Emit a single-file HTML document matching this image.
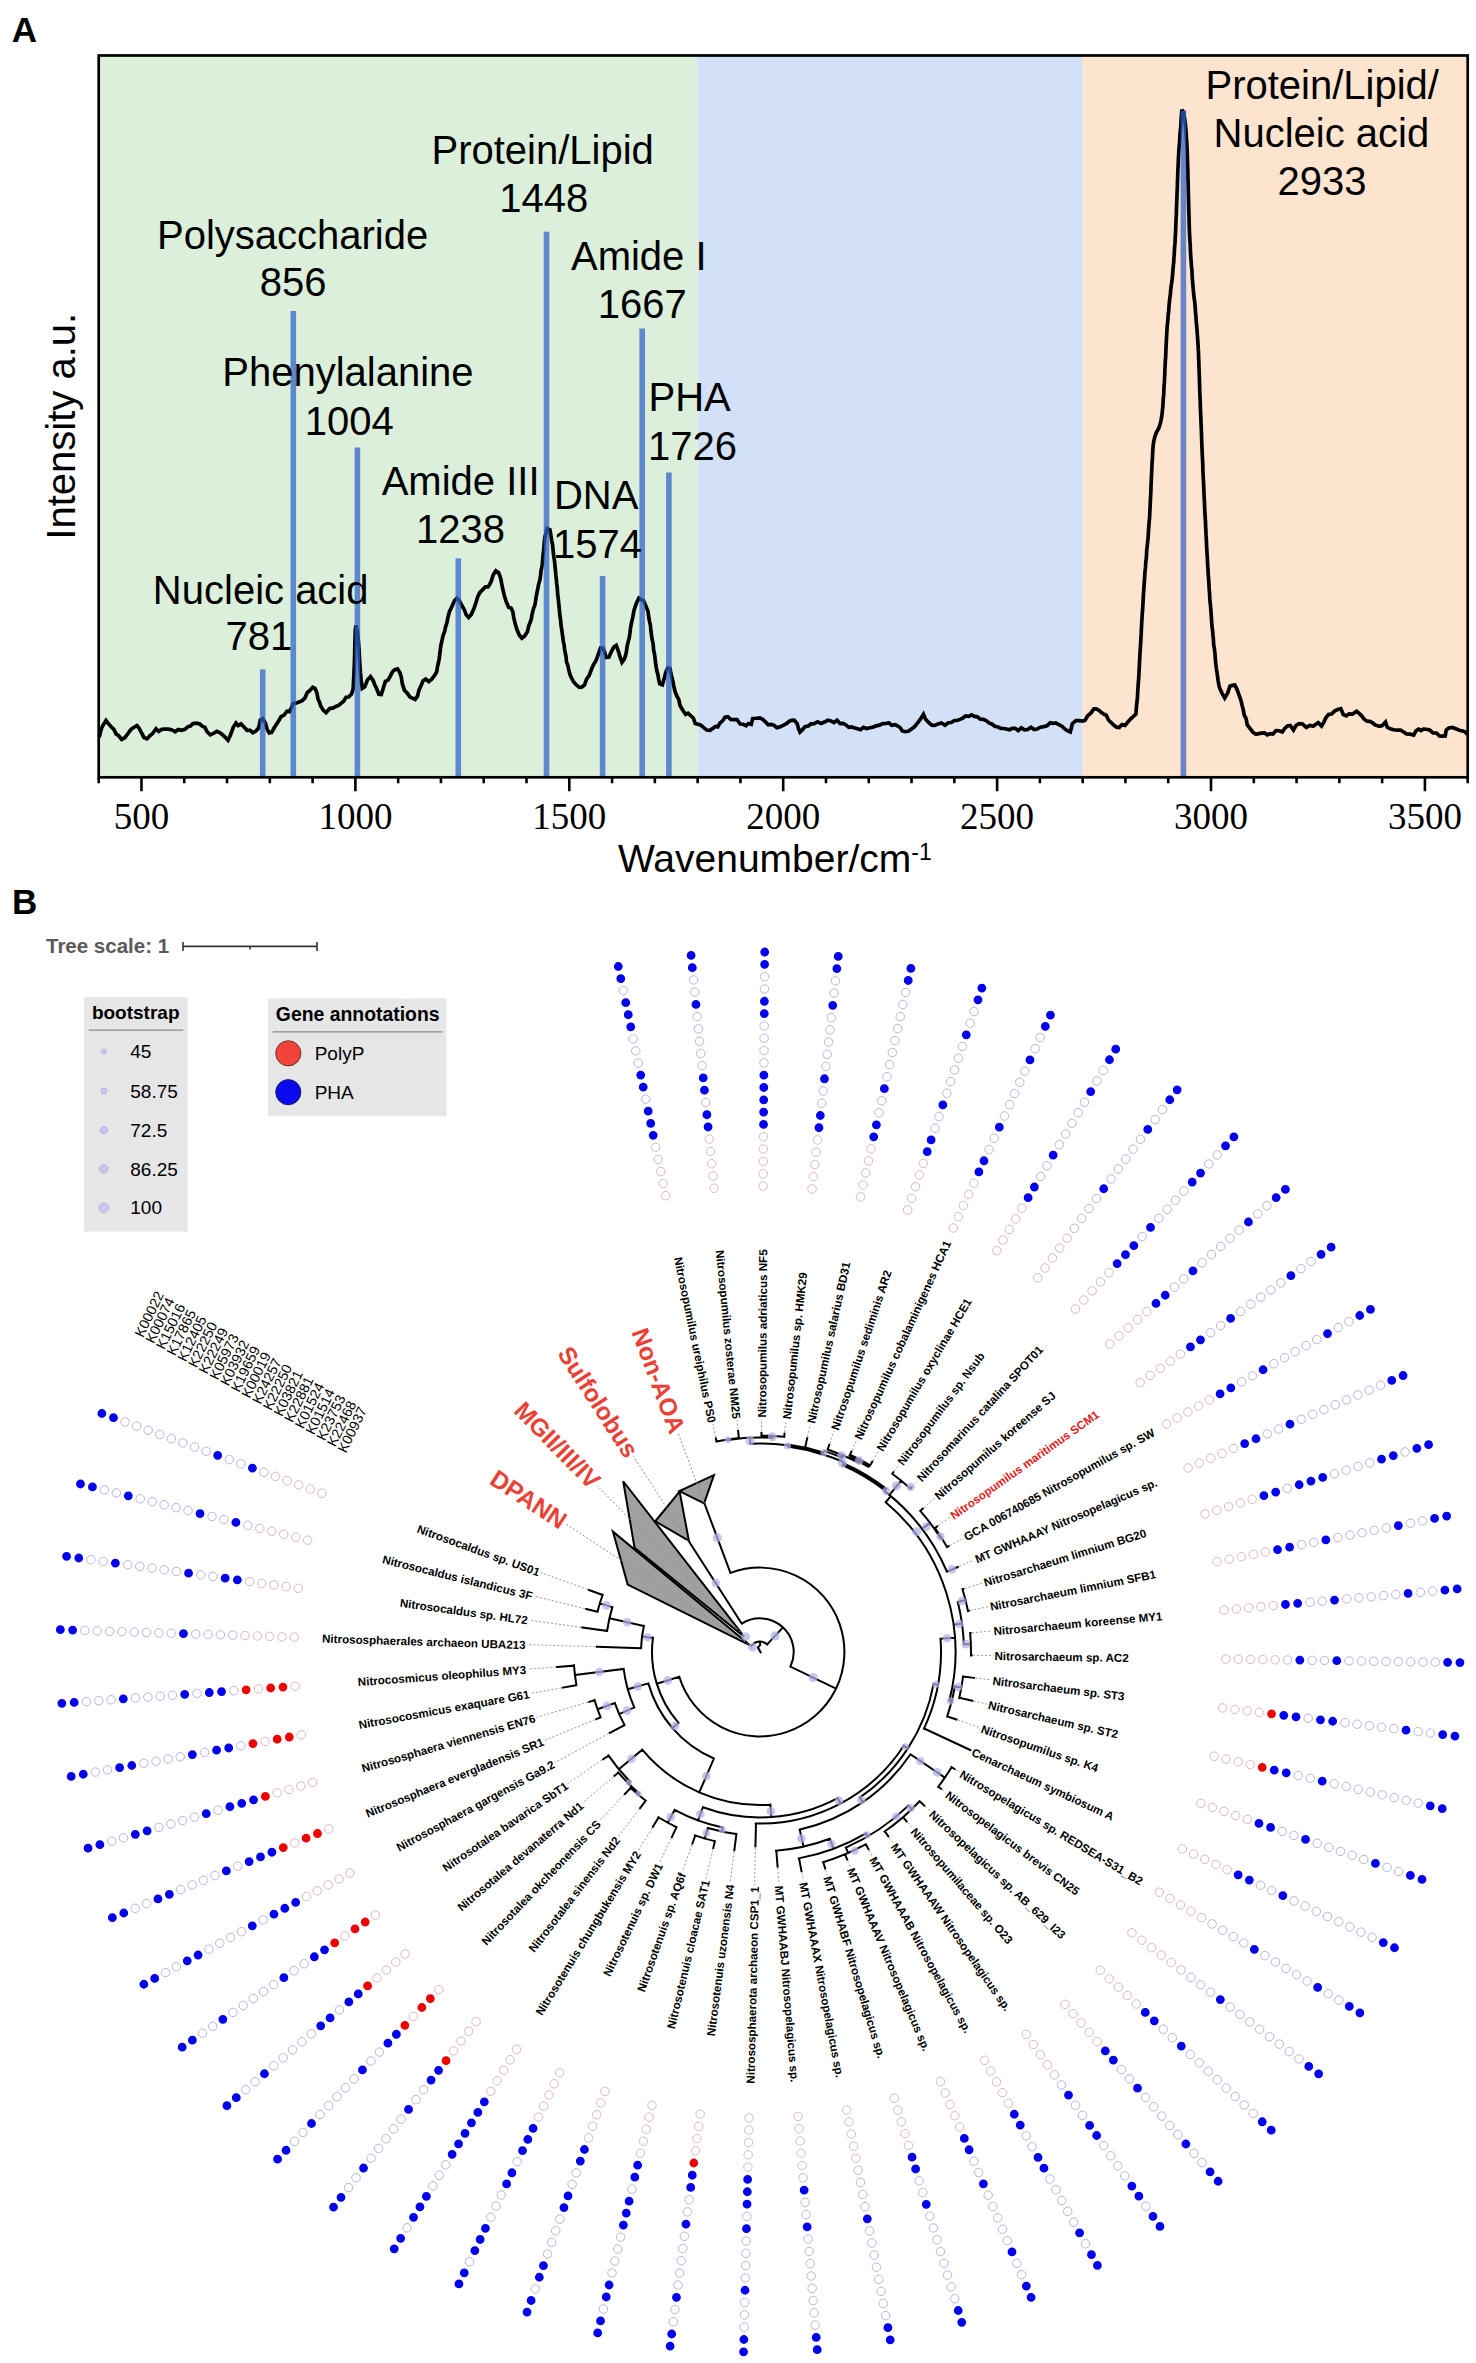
<!DOCTYPE html>
<html><head><meta charset="utf-8"><style>
html,body{margin:0;padding:0;background:#fff;}
body{width:1476px;height:2363px;position:relative;overflow:hidden;}

</style></head><body>
<svg width="1476" height="2363" viewBox="0 0 1476 2363" style="position:absolute;left:0;top:0">
<rect x="0" y="0" width="1476" height="2363" fill="#fff"/>
<text x="11.8" y="41.7" font-family="Liberation Sans" font-weight="bold" font-size="35">A</text>
<rect x="98.7" y="55.5" width="598.94" height="721.8" fill="#dcefdb"/>
<rect x="697.64" y="55.5" width="385.03" height="721.8" fill="#d2e1f8"/>
<rect x="1082.67" y="55.5" width="385.03" height="721.8" fill="#fde4cf"/>
<path d="M99.5 736.4 L101.15 729.31 L103.11 725.06 L106 720.55 L108.54 723.91 L111.64 727.28 L113.89 729.43 L116.19 734.17 L118.44 735.4 L121.57 739.47 L124.78 737.75 L127.88 733.7 L130.79 729.62 L133.69 727.45 L136.99 725.67 L139.35 728.55 L141.69 733.21 L143.95 737.46 L147 738.86 L149.87 735.8 L153.03 733.03 L156.09 728.75 L158.71 731.3 L161.78 729.37 L165.12 729.03 L168.59 729.15 L172.02 729.98 L175.26 731.8 L178.14 729.55 L181.4 730.37 L184.84 729.29 L187.74 726.84 L190.37 726.03 L193 723.51 L196.45 723.2 L199.71 723.97 L202.58 726.4 L204.92 727.24 L207.04 731.72 L210.29 734.88 L213.47 733.37 L216.91 731.41 L220 732.8 L222.5 734.74 L224.73 736.76 L228 740.25 L230.26 735.52 L231.89 731.19 L233.23 727.33 L236 722.98 L238.24 725.54 L240.98 723.93 L244 726.94 L247.12 730.32 L250.13 730.26 L252.82 732.74 L256.08 730.81 L258.39 728.27 L259.43 724.43 L260.34 719.99 L262.68 718.65 L265.47 723.22 L266.92 728.78 L269.21 732.91 L271.65 732.34 L274.23 727.73 L276.93 723.58 L278.77 720.73 L281.05 716.58 L284.03 715.05 L287.01 711.2 L289.54 711.64 L291.83 706.92 L293 703.68 L295.58 703.17 L299.02 702 L301.9 700.85 L305.03 697.82 L307.29 692.36 L309.56 690.87 L312.69 687.36 L314.99 688.49 L316.82 692.54 L317.93 698.64 L319.52 702.15 L320.58 705.75 L323.21 710.09 L326.07 712.58 L329.8 708.57 L333.2 707.92 L335.87 706.42 L338.62 705.47 L341.29 703.09 L343.67 701.18 L346.08 697.27 L348.51 697.02 L351.39 694.29 L352.9 689.81 L353.27 686.93 L353.49 681.64 L353.86 675.72 L354.09 670.79 L354.29 665.32 L354.47 660.48 L354.62 655.08 L354.71 650.18 L354.85 643.78 L355.02 638.39 L355.16 633.73 L355.36 629.52 L355.89 625.53 L357.3 630.36 L357.94 636.27 L358.41 641.14 L358.82 646.59 L359.13 649.31 L359.34 655.72 L359.67 660.89 L360.01 666.91 L360.38 672.24 L360.78 676.11 L361.21 680.81 L361.69 683.67 L362.21 688.29 L364.75 686.69 L367.55 679.76 L370.5 676.61 L373.23 680.65 L374.69 684.82 L376.14 687.65 L377.54 690.98 L378.85 694.15 L381.34 694.41 L383.25 688.27 L385.4 681.39 L388.1 680.13 L390.27 676.11 L392.56 671.62 L394.77 669.75 L397.6 668.98 L399.96 672.71 L401.3 677.04 L402.19 683.28 L404.4 690.18 L407.47 693.49 L409.8 696.84 L412.13 698.04 L415.2 699.35 L417.51 696.12 L418.89 690.4 L420.53 686.85 L423.11 680.78 L425.77 679.13 L428.75 681.63 L431.73 679.2 L434.39 675.66 L436.67 671.94 L437.58 666.3 L438.56 662 L439.23 658.6 L439.7 654.79 L440.21 650.74 L440.8 645.77 L441.88 640.94 L443.03 635.73 L444.67 631.31 L445.56 626.99 L446.97 622.43 L447.94 617.3 L449.43 611.71 L451.46 607.42 L452.98 604.1 L454.46 600.69 L456.75 598.38 L459.35 600.59 L461.96 605.63 L464.54 610.18 L466.22 614.85 L468.63 617.43 L471.29 614.56 L473.71 609 L476 602.53 L477.64 596.96 L479.71 592.63 L482.96 589.42 L485.38 586.95 L488 586.99 L489.64 584.57 L491.37 580.79 L493.15 575.02 L495.84 570.81 L498.48 572.41 L499.86 575.83 L500.79 578.97 L501.73 583.92 L503.1 590.52 L504.42 595.95 L505.99 601.15 L508.62 607.26 L511 608.02 L512.85 611.79 L513.68 617.06 L514.99 623.13 L516.74 629.08 L519.32 635.33 L521.85 638.24 L524.7 635.91 L527.37 631.74 L528.84 625.62 L530.32 622.08 L531.3 619.09 L532.25 613.53 L533.58 608.32 L534.7 605.68 L535.37 602.06 L536.35 595.82 L537.59 589.74 L538.77 583.7 L539.91 579.94 L540.46 576.36 L541 570.8 L541.86 567.03 L542.26 564.17 L542.66 559.55 L543.05 554.9 L543.61 550.16 L544.17 543.52 L544.9 536.81 L545.83 533.94 L547.14 528.48 L549.96 529.68 L551.8 540.87 L552.62 545.12 L553.21 551.54 L553.84 556.95 L554.49 560.94 L554.83 564.29 L555.17 567.72 L555.51 570.9 L555.86 575.5 L556.38 579.59 L556.73 583.64 L557.26 587.92 L557.62 594.07 L558.32 599.06 L558.84 604.43 L559.36 609.7 L559.86 615.4 L560.52 619.46 L560.99 625.04 L561.85 630.18 L562.64 636.17 L563.39 641.6 L564.11 644.94 L564.59 649.54 L565.3 653.12 L566.03 656.63 L566.53 661.9 L567.88 665.67 L568.76 669.9 L570.26 675.24 L573.06 681.09 L576.12 684.8 L579.36 687.43 L581.6 687.19 L584.41 685.06 L586.71 678.89 L589.08 675.69 L591.39 669.51 L593.54 664.61 L595.99 660.7 L597.52 656.41 L599.03 652.25 L600.52 647.88 L603.15 648.13 L604.82 652.79 L606.02 657.35 L608.85 657.27 L611.28 651.81 L613.84 647 L616.23 645.37 L618.33 651.19 L619.73 655.89 L621.96 662.34 L624.18 659.37 L625.41 655.85 L626.39 651.91 L627.07 646.44 L628.1 642.3 L629.14 638.13 L629.83 634.06 L630.51 627.97 L631.52 622.55 L632.79 617.13 L633.96 610.58 L636.47 603.05 L638.86 598.16 L641.2 599.58 L643.66 600.84 L646.31 607.11 L648 611.43 L648.61 616.39 L649.51 621.33 L650.47 625.69 L650.97 631.55 L652.02 638.94 L653.09 643.84 L653.63 650.11 L654.45 653.85 L655 657.83 L655.81 664.88 L656.88 670.96 L657.9 674.49 L658.64 679.07 L659.79 683.84 L662.37 684.76 L664.48 677.54 L665.79 672.26 L667.68 667.84 L670.05 668.4 L670.86 673.23 L672.04 678.32 L672.84 680.78 L673.67 685.61 L675 691.42 L676.81 696.03 L678.74 699.32 L680.05 705.45 L682.66 709.93 L685.67 714.45 L688.04 713.22 L690.32 715.26 L693.4 718.18 L695.23 723.54 L698 724.22 L700.48 725.03 L703.46 727.33 L706.7 730.05 L709.96 730.29 L713 728.18 L715.45 726.52 L717.71 726.88 L719.95 723.06 L722.34 721.04 L725.06 717.28 L727.84 716.77 L730.64 719.4 L733.74 719.53 L736.98 719.67 L740.21 724.03 L743.28 724.27 L746.03 725.73 L748.3 723.58 L751.21 724.45 L752.7 718.41 L756.4 718.23 L759.69 717.96 L762.33 719.03 L765.2 721.55 L768.18 724.73 L771.18 724.3 L774.08 725.34 L776.77 727.67 L779.72 726.88 L783.11 725.34 L786.36 723.6 L789.38 721.19 L792.08 720.23 L794.4 720.36 L797.18 723.53 L798.47 728.63 L800 732.05 L802.75 729.47 L805 726.7 L808.27 725.99 L811.05 723.9 L814.18 723.69 L817.54 721.91 L821.01 723.45 L824.47 722.08 L827.8 720.29 L830.89 720.96 L833.92 722.55 L837.09 720.27 L840.16 723.63 L843.13 723.48 L846 724.96 L848.77 727.31 L851.44 726.81 L854 727.82 L857.47 728.79 L860.54 729.75 L863.46 727.27 L866.53 728.52 L870 727.7 L872.9 727.12 L876.1 725.85 L879.47 725.11 L882.86 723.59 L886.13 723.42 L889.12 722.99 L891.7 725.32 L895.16 724.64 L897.78 726.04 L900.05 727.51 L902.5 731.16 L905.61 731.72 L908.73 731 L911.85 728.76 L914.41 726.86 L917.62 722.94 L920.77 718.73 L923.47 714.31 L925.62 719.16 L928.3 722.2 L931.75 725.19 L934.71 725.44 L938.01 724.07 L941.48 722.99 L944.96 725.27 L948.29 722.74 L951.3 722.51 L954.39 720.49 L957.26 720.52 L960.03 719.38 L962.78 718.07 L965.63 715.94 L968.67 716.41 L971.61 714.87 L974.39 716.41 L977.33 716.86 L980.37 719.21 L983.44 719.44 L986.47 720.85 L989.4 723.21 L992.17 724.18 L994.7 726.29 L998.08 727.03 L1001 728.42 L1003.69 728.52 L1006.39 729 L1009.35 729.78 L1012.37 728.32 L1015.23 728.28 L1018.21 730.67 L1021.29 727.92 L1024.46 729.88 L1027.69 729.5 L1030.96 727.23 L1034.07 729.52 L1037.18 729.03 L1040.43 727.23 L1043.74 726.58 L1047.02 725.85 L1050.18 722.69 L1053.14 723.35 L1055.8 722.99 L1058.94 724.55 L1062.27 726.43 L1065 729.18 L1067.27 730.67 L1070.28 731.97 L1071.34 727.69 L1072.33 723.7 L1075.87 720.58 L1079.05 720.65 L1082.4 721.18 L1084.98 720.52 L1087.87 715.52 L1090.8 713.14 L1093.9 708.87 L1096.15 708.81 L1098.61 709.97 L1101.19 712.28 L1103.78 714.24 L1106.26 715.19 L1108.5 720.01 L1111.03 722.48 L1114.22 725.53 L1116.58 727.15 L1119.19 727.58 L1121.96 724.66 L1125.01 725.4 L1128.04 721.73 L1130.77 718.81 L1133.62 716.12 L1135.9 714.12 L1136.37 707.61 L1137.1 700.82 L1137.41 697.79 L1137.65 692.87 L1137.98 687.64 L1138.33 682.62 L1138.6 679.02 L1138.88 674.79 L1139.06 671.16 L1139.35 666.43 L1139.64 659.55 L1140.03 652.99 L1140.42 646.42 L1140.72 642.82 L1140.91 637.81 L1141.21 633.44 L1141.51 626.3 L1141.9 619.56 L1142.29 613.52 L1142.57 609.97 L1142.85 605.27 L1143.13 600.63 L1143.4 594.95 L1143.75 590.25 L1144.14 584.28 L1144.55 578.54 L1144.95 571.98 L1145.47 567.94 L1145.73 562.42 L1146.24 559.04 L1146.49 556 L1146.74 550.04 L1147.35 544.65 L1147.82 540.44 L1148.17 536.84 L1148.4 532.31 L1148.74 527.45 L1149.18 521.36 L1149.6 517.74 L1149.78 512.24 L1150.12 507.25 L1150.36 500.9 L1150.65 495.6 L1150.86 492.04 L1151 485.89 L1151.27 481.55 L1151.41 477.18 L1151.62 473.58 L1151.77 469.76 L1152 463.48 L1152.33 459.81 L1152.51 455.58 L1152.91 448.71 L1153.48 442.77 L1154.7 437.08 L1156.47 432.38 L1158.87 428.01 L1160.7 422.08 L1161.9 415.37 L1162.46 409.81 L1162.88 406.51 L1163.18 399.51 L1163.57 396.12 L1163.85 391.73 L1164.03 386.05 L1164.39 382.15 L1164.57 378.04 L1164.74 375.25 L1164.91 369.73 L1165.17 364.83 L1165.42 359.74 L1165.67 356.68 L1165.84 351.93 L1166.09 346.21 L1166.34 341.65 L1166.6 336.53 L1166.95 329.98 L1167.4 323.65 L1167.87 320.25 L1168.19 314.67 L1168.67 311.58 L1169 305.88 L1169.66 299.57 L1170.32 294.43 L1170.8 289.07 L1171.42 284.19 L1172 280.83 L1172.28 277.94 L1172.66 273.72 L1173.05 268.7 L1173.46 264.82 L1173.71 261.95 L1173.93 257.8 L1174.24 254.33 L1174.52 248.06 L1174.96 243.4 L1175.23 237.77 L1175.5 233.55 L1175.7 229.29 L1175.88 224.25 L1176.12 217.91 L1176.35 214.95 L1176.46 209.14 L1176.69 203.94 L1176.86 198.6 L1177.03 193.49 L1177.2 190.02 L1177.32 187.53 L1177.44 181.81 L1177.62 178.31 L1177.8 172.38 L1178.06 167.21 L1178.26 162.36 L1178.49 157.1 L1178.8 151.74 L1179.13 146.53 L1179.49 143.58 L1179.73 138.7 L1180.09 132.66 L1180.58 128.55 L1180.81 125.82 L1181.03 121.09 L1181.44 114.83 L1181.87 109.73 L1183.61 112.47 L1184.24 116.84 L1184.91 120.29 L1185.35 124.16 L1185.77 128.06 L1186.17 133.46 L1186.54 139.44 L1186.87 144.97 L1187.1 148.82 L1187.25 152.94 L1187.4 157.7 L1187.55 161.81 L1187.69 166.49 L1187.83 170.51 L1187.92 174.61 L1188.01 180.37 L1188.18 184.39 L1188.27 189.13 L1188.39 194.71 L1188.52 200.6 L1188.69 205.02 L1188.77 208.43 L1188.9 213.02 L1189.03 217.98 L1189.17 222.33 L1189.31 227.94 L1189.57 234.14 L1189.82 239.77 L1190.12 243.28 L1190.28 246.19 L1190.43 251.21 L1190.75 256.99 L1191.19 261.95 L1191.49 266.42 L1191.82 268.89 L1192.07 273.49 L1192.41 279.7 L1192.87 284.84 L1193.38 290.62 L1193.94 296.88 L1194.52 300.44 L1194.96 304.55 L1195.25 307.8 L1195.54 312.16 L1195.97 317.41 L1196.39 323.02 L1196.91 328.6 L1197.39 334.67 L1197.7 339.8 L1198.04 344.56 L1198.26 349.18 L1198.46 351.71 L1198.58 357.07 L1198.81 360.89 L1198.97 367.53 L1199.16 372.42 L1199.35 377.21 L1199.5 381.19 L1199.6 384.73 L1199.71 389.22 L1199.87 394.33 L1200.05 397.41 L1200.19 400.75 L1200.33 405.86 L1200.51 410.49 L1200.72 415.19 L1200.89 418.77 L1201.06 424.29 L1201.29 428.07 L1201.41 432.01 L1201.59 437.03 L1201.77 443.26 L1202.02 448.32 L1202.21 453.79 L1202.47 458.64 L1202.67 462.54 L1202.8 465.73 L1202.93 471.31 L1203.21 476.74 L1203.41 480.11 L1203.62 483.84 L1203.77 488.57 L1203.98 493.82 L1204.2 497.56 L1204.43 501.57 L1204.65 507.49 L1204.96 514.46 L1205.27 518.25 L1205.42 520.7 L1205.58 524.84 L1205.82 529.8 L1206.07 535.39 L1206.31 538.43 L1206.48 543.6 L1206.81 549.64 L1207.15 555.05 L1207.41 558.65 L1207.59 564.31 L1207.94 568.14 L1208.21 574.36 L1208.58 578.24 L1208.86 582.55 L1209.14 588.64 L1209.52 592.61 L1209.81 598.89 L1210.26 603.48 L1210.67 607.65 L1210.94 611.24 L1211.22 615.34 L1211.65 621.3 L1212.08 627.31 L1212.67 631.16 L1212.97 635.22 L1213.42 639.33 L1213.72 644.99 L1214.32 648.1 L1214.63 650.65 L1214.93 653.46 L1215.23 657.28 L1215.68 662.86 L1216.42 668.75 L1217.4 675.23 L1218.16 681.03 L1219.25 686.83 L1220.71 690.6 L1222.35 693.8 L1224.71 698.09 L1227.72 692.92 L1229.94 686.13 L1232.3 685.37 L1234.8 685.09 L1237.07 689.58 L1238.54 693.56 L1240.06 697.86 L1241.09 700.8 L1242.12 705.36 L1243.16 709.25 L1244.19 714.91 L1246.19 718.81 L1247.16 724.63 L1249.4 727.61 L1252.82 732.18 L1255.9 734.22 L1258.69 733.65 L1261.67 733.11 L1264.54 732.95 L1267.3 734.81 L1270.08 733.64 L1272.95 734.04 L1275.97 730.64 L1279.11 730.74 L1282.3 732.03 L1284.9 728.2 L1287.43 726.04 L1290.3 725.55 L1293.46 730 L1296.14 725.31 L1299.24 723.69 L1302.57 724 L1306.37 727.36 L1309.84 725.36 L1313.2 726.14 L1315.81 724.21 L1318.22 722.71 L1321.5 726.03 L1323.79 722.37 L1325.9 717.7 L1328.36 714.5 L1331.52 714 L1334.84 710.86 L1337.81 709.52 L1340.85 708.73 L1343.19 714.3 L1346.19 715.79 L1349.05 713.9 L1352.45 714.02 L1356.6 711.38 L1358.82 713.15 L1361.39 715.56 L1364.18 719.14 L1367.07 721.24 L1369.92 721.39 L1372.61 722.82 L1375.01 724.93 L1379.36 726.27 L1382.28 725.5 L1385.54 722.07 L1387.26 727.33 L1390.15 728.86 L1393.69 729.74 L1397.48 730.03 L1400.5 730.16 L1402.88 731.5 L1406.4 733.83 L1410.08 734.15 L1413.7 735.06 L1416.02 730.81 L1418.62 729.1 L1421 730.66 L1423.33 729.23 L1426.27 729.27 L1429.59 730.07 L1433.05 732.83 L1436.43 733.01 L1439.5 736.02 L1442.02 736.14 L1445.18 735.9 L1446.22 730.21 L1448.69 727.94 L1452.17 727.43 L1455.9 728.78 L1459.26 730.2 L1462.64 730.97 L1465.46 731.96 L1466.4 733.4" fill="none" stroke="#000" stroke-width="3.7" stroke-linejoin="miter" stroke-miterlimit="3" stroke-linecap="round"/>
<rect x="259.9" y="669.4" width="5.6" height="107.9" fill="#2e5fc7" fill-opacity="0.72"/>
<rect x="290.5" y="311" width="5.6" height="466.3" fill="#2e5fc7" fill-opacity="0.72"/>
<rect x="354.6" y="447.5" width="5.6" height="329.8" fill="#2e5fc7" fill-opacity="0.72"/>
<rect x="455.5" y="558.4" width="5.6" height="218.9" fill="#2e5fc7" fill-opacity="0.72"/>
<rect x="543.7" y="231.7" width="5.6" height="545.6" fill="#2e5fc7" fill-opacity="0.72"/>
<rect x="599.8" y="576" width="5.6" height="201.3" fill="#2e5fc7" fill-opacity="0.72"/>
<rect x="639.4" y="328.5" width="5.6" height="448.8" fill="#2e5fc7" fill-opacity="0.72"/>
<rect x="666.1" y="472.5" width="5.6" height="304.8" fill="#2e5fc7" fill-opacity="0.72"/>
<rect x="1180.6" y="110.5" width="5.6" height="666.8" fill="#2e5fc7" fill-opacity="0.72"/>
<rect x="98.7" y="55.5" width="1369" height="721.8" fill="none" stroke="#000" stroke-width="2.7"/>
<path d="M98.7 777.3 V783.3 M141.48 777.3 V791.3 M184.26 777.3 V783.3 M227.04 777.3 V783.3 M269.82 777.3 V783.3 M312.61 777.3 V783.3 M355.39 777.3 V791.3 M398.17 777.3 V783.3 M440.95 777.3 V783.3 M483.73 777.3 V783.3 M526.51 777.3 V783.3 M569.29 777.3 V791.3 M612.08 777.3 V783.3 M654.86 777.3 V783.3 M697.64 777.3 V783.3 M740.42 777.3 V783.3 M783.2 777.3 V791.3 M825.98 777.3 V783.3 M868.76 777.3 V783.3 M911.54 777.3 V783.3 M954.33 777.3 V783.3 M997.11 777.3 V791.3 M1039.89 777.3 V783.3 M1082.67 777.3 V783.3 M1125.45 777.3 V783.3 M1168.23 777.3 V783.3 M1211.01 777.3 V791.3 M1253.79 777.3 V783.3 M1296.58 777.3 V783.3 M1339.36 777.3 V783.3 M1382.14 777.3 V783.3 M1424.92 777.3 V791.3 M1467.7 777.3 V783.3" stroke="#000" stroke-width="2.6"/>
<text x="141.48" y="828.8" text-anchor="middle" font-family="Liberation Serif" font-size="37">500</text>
<text x="355.39" y="828.8" text-anchor="middle" font-family="Liberation Serif" font-size="37">1000</text>
<text x="569.29" y="828.8" text-anchor="middle" font-family="Liberation Serif" font-size="37">1500</text>
<text x="783.2" y="828.8" text-anchor="middle" font-family="Liberation Serif" font-size="37">2000</text>
<text x="997.11" y="828.8" text-anchor="middle" font-family="Liberation Serif" font-size="37">2500</text>
<text x="1211.01" y="828.8" text-anchor="middle" font-family="Liberation Serif" font-size="37">3000</text>
<text x="1424.92" y="828.8" text-anchor="middle" font-family="Liberation Serif" font-size="37">3500</text>
<text x="618" y="871.7" font-family="Liberation Sans" font-size="39">Wavenumber/cm<tspan font-size="23" dy="-12">-1</tspan></text>
<text transform="translate(75.2 426.3) rotate(-90)" text-anchor="middle" font-family="Liberation Sans" font-size="40">Intensity a.u.</text>
<text x="260.7" y="603.5" text-anchor="middle" font-family="Liberation Sans" font-size="40" xml:space="preserve">Nucleic acid</text>
<text x="258.9" y="650" text-anchor="middle" font-family="Liberation Sans" font-size="40" xml:space="preserve">781</text>
<text x="292.6" y="249" text-anchor="middle" font-family="Liberation Sans" font-size="40" xml:space="preserve">Polysaccharide</text>
<text x="293.2" y="296.2" text-anchor="middle" font-family="Liberation Sans" font-size="40" xml:space="preserve">856</text>
<text x="347.9" y="385.8" text-anchor="middle" font-family="Liberation Sans" font-size="40" xml:space="preserve">Phenylalanine</text>
<text x="349.3" y="435.1" text-anchor="middle" font-family="Liberation Sans" font-size="40" xml:space="preserve">1004</text>
<text x="460.6" y="495" text-anchor="middle" font-family="Liberation Sans" font-size="40" xml:space="preserve">Amide III</text>
<text x="460.6" y="542.6" text-anchor="middle" font-family="Liberation Sans" font-size="40" xml:space="preserve">1238</text>
<text x="542.7" y="163.8" text-anchor="middle" font-family="Liberation Sans" font-size="40" xml:space="preserve">Protein/Lipid</text>
<text x="543.8" y="212.1" text-anchor="middle" font-family="Liberation Sans" font-size="40" xml:space="preserve">1448</text>
<text x="596.2" y="509.1" text-anchor="middle" font-family="Liberation Sans" font-size="40" xml:space="preserve">DNA</text>
<text x="597.5" y="558.4" text-anchor="middle" font-family="Liberation Sans" font-size="40" xml:space="preserve">1574</text>
<text x="638.8" y="269.7" text-anchor="middle" font-family="Liberation Sans" font-size="40" xml:space="preserve">Amide I</text>
<text x="642.3" y="318.1" text-anchor="middle" font-family="Liberation Sans" font-size="40" xml:space="preserve">1667</text>
<text x="689.6" y="411.4" text-anchor="middle" font-family="Liberation Sans" font-size="40" xml:space="preserve">PHA</text>
<text x="692.4" y="459.8" text-anchor="middle" font-family="Liberation Sans" font-size="40" xml:space="preserve">1726</text>
<text x="1322.2" y="99.1" text-anchor="middle" font-family="Liberation Sans" font-size="40" xml:space="preserve">Protein/Lipid/</text>
<text x="1321.4" y="147.3" text-anchor="middle" font-family="Liberation Sans" font-size="40" xml:space="preserve">Nucleic acid</text>
<text x="1321.9" y="195.4" text-anchor="middle" font-family="Liberation Sans" font-size="40" xml:space="preserve">2933</text>
<text x="12" y="913.7" font-family="Liberation Sans" font-weight="bold" font-size="35">B</text>
<text x="46" y="952.6" font-family="Liberation Sans" font-weight="bold" font-size="20.5" fill="#5a5a5a">Tree scale: 1</text>
<path d="M183 946.4 H317 M183 942 V951 M317 942 V951 M250 946.4 V949.5" stroke="#333" stroke-width="1.6" fill="none"/>
<rect x="84" y="997" width="103.6" height="234.5" fill="#e6e6e6"/>
<text x="91.9" y="1018.7" font-family="Liberation Sans" font-weight="bold" font-size="19">bootstrap</text>
<path d="M88.8 1030.2 H183.2" stroke="#8a8a8a" stroke-width="1.2"/>
<circle cx="103.8" cy="1051.4" r="2.4" fill="#c9c9f0" stroke="#a8a8e0" stroke-width="0.8"/>
<text x="130.3" y="1058" font-family="Liberation Sans" font-size="19">45</text>
<circle cx="103.8" cy="1091" r="3" fill="#c9c9f0" stroke="#a8a8e0" stroke-width="0.8"/>
<text x="130.3" y="1097.6" font-family="Liberation Sans" font-size="19">58.75</text>
<circle cx="103.8" cy="1130" r="3.6" fill="#c9c9f0" stroke="#a8a8e0" stroke-width="0.8"/>
<text x="130.3" y="1136.6" font-family="Liberation Sans" font-size="19">72.5</text>
<circle cx="103.8" cy="1168.9" r="4.2" fill="#c9c9f0" stroke="#a8a8e0" stroke-width="0.8"/>
<text x="130.3" y="1175.5" font-family="Liberation Sans" font-size="19">86.25</text>
<circle cx="103.8" cy="1207.8" r="4.8" fill="#c9c9f0" stroke="#a8a8e0" stroke-width="0.8"/>
<text x="130.3" y="1214.4" font-family="Liberation Sans" font-size="19">100</text>
<rect x="268" y="998.4" width="178.5" height="117.8" fill="#e6e6e6"/>
<text x="275.8" y="1020.9" font-family="Liberation Sans" font-weight="bold" font-size="19.4">Gene annotations</text>
<path d="M272.7 1031.8 H442.5" stroke="#8a8a8a" stroke-width="1.2"/>
<circle cx="288.3" cy="1053.3" r="12.6" fill="#f2433a" stroke="#5a2a2a" stroke-width="0.9"/>
<circle cx="288.3" cy="1092.2" r="12.6" fill="#0a0aee" stroke="#1a1a4a" stroke-width="0.9"/>
<text x="314.7" y="1060" font-family="Liberation Sans" font-size="19">PolyP</text>
<text x="314.7" y="1099" font-family="Liberation Sans" font-size="19">PHA</text>
<path d="M619.02 990.62a4.25 4.25 0 1 0 8.5 0a4.25 4.25 0 1 0 -8.5 0M629 1038.86a4.25 4.25 0 1 0 8.5 0a4.25 4.25 0 1 0 -8.5 0M631.49 1050.92a4.25 4.25 0 1 0 8.5 0a4.25 4.25 0 1 0 -8.5 0M633.98 1062.98a4.25 4.25 0 1 0 8.5 0a4.25 4.25 0 1 0 -8.5 0M641.46 1099.16a4.25 4.25 0 1 0 8.5 0a4.25 4.25 0 1 0 -8.5 0M689.28 979.91a4.25 4.25 0 1 0 8.5 0a4.25 4.25 0 1 0 -8.5 0M690.49 992.17a4.25 4.25 0 1 0 8.5 0a4.25 4.25 0 1 0 -8.5 0M692.92 1016.68a4.25 4.25 0 1 0 8.5 0a4.25 4.25 0 1 0 -8.5 0M694.13 1028.93a4.25 4.25 0 1 0 8.5 0a4.25 4.25 0 1 0 -8.5 0M695.34 1041.19a4.25 4.25 0 1 0 8.5 0a4.25 4.25 0 1 0 -8.5 0M696.55 1053.45a4.25 4.25 0 1 0 8.5 0a4.25 4.25 0 1 0 -8.5 0M697.77 1065.7a4.25 4.25 0 1 0 8.5 0a4.25 4.25 0 1 0 -8.5 0M701.4 1102.47a4.25 4.25 0 1 0 8.5 0a4.25 4.25 0 1 0 -8.5 0M760.28 976.65a4.25 4.25 0 1 0 8.5 0a4.25 4.25 0 1 0 -8.5 0M760.19 988.96a4.25 4.25 0 1 0 8.5 0a4.25 4.25 0 1 0 -8.5 0M759.95 1025.91a4.25 4.25 0 1 0 8.5 0a4.25 4.25 0 1 0 -8.5 0M759.86 1038.22a4.25 4.25 0 1 0 8.5 0a4.25 4.25 0 1 0 -8.5 0M759.78 1050.54a4.25 4.25 0 1 0 8.5 0a4.25 4.25 0 1 0 -8.5 0M759.7 1062.86a4.25 4.25 0 1 0 8.5 0a4.25 4.25 0 1 0 -8.5 0M831.22 980.86a4.25 4.25 0 1 0 8.5 0a4.25 4.25 0 1 0 -8.5 0M829.84 993.1a4.25 4.25 0 1 0 8.5 0a4.25 4.25 0 1 0 -8.5 0M827.09 1017.58a4.25 4.25 0 1 0 8.5 0a4.25 4.25 0 1 0 -8.5 0M825.72 1029.82a4.25 4.25 0 1 0 8.5 0a4.25 4.25 0 1 0 -8.5 0M824.34 1042.05a4.25 4.25 0 1 0 8.5 0a4.25 4.25 0 1 0 -8.5 0M822.96 1054.29a4.25 4.25 0 1 0 8.5 0a4.25 4.25 0 1 0 -8.5 0M821.59 1066.53a4.25 4.25 0 1 0 8.5 0a4.25 4.25 0 1 0 -8.5 0M818.83 1091.01a4.25 4.25 0 1 0 8.5 0a4.25 4.25 0 1 0 -8.5 0M817.46 1103.25a4.25 4.25 0 1 0 8.5 0a4.25 4.25 0 1 0 -8.5 0M901.33 992.51a4.25 4.25 0 1 0 8.5 0a4.25 4.25 0 1 0 -8.5 0M898.67 1004.53a4.25 4.25 0 1 0 8.5 0a4.25 4.25 0 1 0 -8.5 0M896.02 1016.56a4.25 4.25 0 1 0 8.5 0a4.25 4.25 0 1 0 -8.5 0M893.36 1028.59a4.25 4.25 0 1 0 8.5 0a4.25 4.25 0 1 0 -8.5 0M890.71 1040.61a4.25 4.25 0 1 0 8.5 0a4.25 4.25 0 1 0 -8.5 0M888.05 1052.64a4.25 4.25 0 1 0 8.5 0a4.25 4.25 0 1 0 -8.5 0M885.4 1064.67a4.25 4.25 0 1 0 8.5 0a4.25 4.25 0 1 0 -8.5 0M882.75 1076.69a4.25 4.25 0 1 0 8.5 0a4.25 4.25 0 1 0 -8.5 0M877.44 1100.74a4.25 4.25 0 1 0 8.5 0a4.25 4.25 0 1 0 -8.5 0M874.78 1112.77a4.25 4.25 0 1 0 8.5 0a4.25 4.25 0 1 0 -8.5 0M969.82 1011.46a4.25 4.25 0 1 0 8.5 0a4.25 4.25 0 1 0 -8.5 0M965.92 1023.14a4.25 4.25 0 1 0 8.5 0a4.25 4.25 0 1 0 -8.5 0M958.11 1046.5a4.25 4.25 0 1 0 8.5 0a4.25 4.25 0 1 0 -8.5 0M954.21 1058.18a4.25 4.25 0 1 0 8.5 0a4.25 4.25 0 1 0 -8.5 0M950.31 1069.86a4.25 4.25 0 1 0 8.5 0a4.25 4.25 0 1 0 -8.5 0M946.4 1081.54a4.25 4.25 0 1 0 8.5 0a4.25 4.25 0 1 0 -8.5 0M942.5 1093.22a4.25 4.25 0 1 0 8.5 0a4.25 4.25 0 1 0 -8.5 0M934.69 1116.58a4.25 4.25 0 1 0 8.5 0a4.25 4.25 0 1 0 -8.5 0M930.79 1128.26a4.25 4.25 0 1 0 8.5 0a4.25 4.25 0 1 0 -8.5 0M1035.95 1037.5a4.25 4.25 0 1 0 8.5 0a4.25 4.25 0 1 0 -8.5 0M1030.84 1048.71a4.25 4.25 0 1 0 8.5 0a4.25 4.25 0 1 0 -8.5 0M1020.62 1071.12a4.25 4.25 0 1 0 8.5 0a4.25 4.25 0 1 0 -8.5 0M1015.51 1082.32a4.25 4.25 0 1 0 8.5 0a4.25 4.25 0 1 0 -8.5 0M1010.4 1093.53a4.25 4.25 0 1 0 8.5 0a4.25 4.25 0 1 0 -8.5 0M1005.29 1104.73a4.25 4.25 0 1 0 8.5 0a4.25 4.25 0 1 0 -8.5 0M1000.18 1115.94a4.25 4.25 0 1 0 8.5 0a4.25 4.25 0 1 0 -8.5 0M989.96 1138.35a4.25 4.25 0 1 0 8.5 0a4.25 4.25 0 1 0 -8.5 0M984.85 1149.56a4.25 4.25 0 1 0 8.5 0a4.25 4.25 0 1 0 -8.5 0M1098.97 1070.35a4.25 4.25 0 1 0 8.5 0a4.25 4.25 0 1 0 -8.5 0M1092.71 1080.95a4.25 4.25 0 1 0 8.5 0a4.25 4.25 0 1 0 -8.5 0M1080.2 1102.17a4.25 4.25 0 1 0 8.5 0a4.25 4.25 0 1 0 -8.5 0M1073.94 1112.77a4.25 4.25 0 1 0 8.5 0a4.25 4.25 0 1 0 -8.5 0M1067.68 1123.38a4.25 4.25 0 1 0 8.5 0a4.25 4.25 0 1 0 -8.5 0M1061.42 1133.99a4.25 4.25 0 1 0 8.5 0a4.25 4.25 0 1 0 -8.5 0M1055.16 1144.59a4.25 4.25 0 1 0 8.5 0a4.25 4.25 0 1 0 -8.5 0M1042.64 1165.81a4.25 4.25 0 1 0 8.5 0a4.25 4.25 0 1 0 -8.5 0M1036.38 1176.41a4.25 4.25 0 1 0 8.5 0a4.25 4.25 0 1 0 -8.5 0M1158.19 1109.63a4.25 4.25 0 1 0 8.5 0a4.25 4.25 0 1 0 -8.5 0M1150.86 1119.52a4.25 4.25 0 1 0 8.5 0a4.25 4.25 0 1 0 -8.5 0M1136.18 1139.31a4.25 4.25 0 1 0 8.5 0a4.25 4.25 0 1 0 -8.5 0M1128.84 1149.2a4.25 4.25 0 1 0 8.5 0a4.25 4.25 0 1 0 -8.5 0M1121.5 1159.09a4.25 4.25 0 1 0 8.5 0a4.25 4.25 0 1 0 -8.5 0M1114.16 1168.98a4.25 4.25 0 1 0 8.5 0a4.25 4.25 0 1 0 -8.5 0M1106.82 1178.87a4.25 4.25 0 1 0 8.5 0a4.25 4.25 0 1 0 -8.5 0M1092.14 1198.65a4.25 4.25 0 1 0 8.5 0a4.25 4.25 0 1 0 -8.5 0M1084.81 1208.54a4.25 4.25 0 1 0 8.5 0a4.25 4.25 0 1 0 -8.5 0M1077.47 1218.43a4.25 4.25 0 1 0 8.5 0a4.25 4.25 0 1 0 -8.5 0M1070.13 1228.32a4.25 4.25 0 1 0 8.5 0a4.25 4.25 0 1 0 -8.5 0M1212.96 1154.93a4.25 4.25 0 1 0 8.5 0a4.25 4.25 0 1 0 -8.5 0M1204.62 1163.99a4.25 4.25 0 1 0 8.5 0a4.25 4.25 0 1 0 -8.5 0M1179.61 1191.18a4.25 4.25 0 1 0 8.5 0a4.25 4.25 0 1 0 -8.5 0M1171.27 1200.25a4.25 4.25 0 1 0 8.5 0a4.25 4.25 0 1 0 -8.5 0M1162.93 1209.31a4.25 4.25 0 1 0 8.5 0a4.25 4.25 0 1 0 -8.5 0M1154.6 1218.38a4.25 4.25 0 1 0 8.5 0a4.25 4.25 0 1 0 -8.5 0M1137.92 1236.51a4.25 4.25 0 1 0 8.5 0a4.25 4.25 0 1 0 -8.5 0M1262.66 1205.72a4.25 4.25 0 1 0 8.5 0a4.25 4.25 0 1 0 -8.5 0M1253.42 1213.86a4.25 4.25 0 1 0 8.5 0a4.25 4.25 0 1 0 -8.5 0M1234.93 1230.14a4.25 4.25 0 1 0 8.5 0a4.25 4.25 0 1 0 -8.5 0M1225.69 1238.28a4.25 4.25 0 1 0 8.5 0a4.25 4.25 0 1 0 -8.5 0M1216.44 1246.42a4.25 4.25 0 1 0 8.5 0a4.25 4.25 0 1 0 -8.5 0M1207.2 1254.55a4.25 4.25 0 1 0 8.5 0a4.25 4.25 0 1 0 -8.5 0M1197.96 1262.69a4.25 4.25 0 1 0 8.5 0a4.25 4.25 0 1 0 -8.5 0M1179.47 1278.97a4.25 4.25 0 1 0 8.5 0a4.25 4.25 0 1 0 -8.5 0M1170.22 1287.11a4.25 4.25 0 1 0 8.5 0a4.25 4.25 0 1 0 -8.5 0M1306.75 1261.46a4.25 4.25 0 1 0 8.5 0a4.25 4.25 0 1 0 -8.5 0M1296.7 1268.59a4.25 4.25 0 1 0 8.5 0a4.25 4.25 0 1 0 -8.5 0M1276.61 1282.83a4.25 4.25 0 1 0 8.5 0a4.25 4.25 0 1 0 -8.5 0M1266.56 1289.95a4.25 4.25 0 1 0 8.5 0a4.25 4.25 0 1 0 -8.5 0M1256.51 1297.07a4.25 4.25 0 1 0 8.5 0a4.25 4.25 0 1 0 -8.5 0M1246.47 1304.19a4.25 4.25 0 1 0 8.5 0a4.25 4.25 0 1 0 -8.5 0M1236.42 1311.32a4.25 4.25 0 1 0 8.5 0a4.25 4.25 0 1 0 -8.5 0M1216.32 1325.56a4.25 4.25 0 1 0 8.5 0a4.25 4.25 0 1 0 -8.5 0M1206.27 1332.68a4.25 4.25 0 1 0 8.5 0a4.25 4.25 0 1 0 -8.5 0M1344.74 1321.53a4.25 4.25 0 1 0 8.5 0a4.25 4.25 0 1 0 -8.5 0M1334 1327.55a4.25 4.25 0 1 0 8.5 0a4.25 4.25 0 1 0 -8.5 0M1312.52 1339.61a4.25 4.25 0 1 0 8.5 0a4.25 4.25 0 1 0 -8.5 0M1301.78 1345.63a4.25 4.25 0 1 0 8.5 0a4.25 4.25 0 1 0 -8.5 0M1291.04 1351.66a4.25 4.25 0 1 0 8.5 0a4.25 4.25 0 1 0 -8.5 0M1280.3 1357.69a4.25 4.25 0 1 0 8.5 0a4.25 4.25 0 1 0 -8.5 0M1269.56 1363.71a4.25 4.25 0 1 0 8.5 0a4.25 4.25 0 1 0 -8.5 0M1248.08 1375.77a4.25 4.25 0 1 0 8.5 0a4.25 4.25 0 1 0 -8.5 0M1237.33 1381.79a4.25 4.25 0 1 0 8.5 0a4.25 4.25 0 1 0 -8.5 0M1376.21 1385.25a4.25 4.25 0 1 0 8.5 0a4.25 4.25 0 1 0 -8.5 0M1364.89 1390.12a4.25 4.25 0 1 0 8.5 0a4.25 4.25 0 1 0 -8.5 0M1353.58 1394.98a4.25 4.25 0 1 0 8.5 0a4.25 4.25 0 1 0 -8.5 0M1342.26 1399.84a4.25 4.25 0 1 0 8.5 0a4.25 4.25 0 1 0 -8.5 0M1330.95 1404.71a4.25 4.25 0 1 0 8.5 0a4.25 4.25 0 1 0 -8.5 0M1319.64 1409.57a4.25 4.25 0 1 0 8.5 0a4.25 4.25 0 1 0 -8.5 0M1308.32 1414.44a4.25 4.25 0 1 0 8.5 0a4.25 4.25 0 1 0 -8.5 0M1297.01 1419.3a4.25 4.25 0 1 0 8.5 0a4.25 4.25 0 1 0 -8.5 0M1274.38 1429.03a4.25 4.25 0 1 0 8.5 0a4.25 4.25 0 1 0 -8.5 0M1263.06 1433.89a4.25 4.25 0 1 0 8.5 0a4.25 4.25 0 1 0 -8.5 0M1400.8 1451.93a4.25 4.25 0 1 0 8.5 0a4.25 4.25 0 1 0 -8.5 0M1365.51 1462.87a4.25 4.25 0 1 0 8.5 0a4.25 4.25 0 1 0 -8.5 0M1353.75 1466.52a4.25 4.25 0 1 0 8.5 0a4.25 4.25 0 1 0 -8.5 0M1341.99 1470.17a4.25 4.25 0 1 0 8.5 0a4.25 4.25 0 1 0 -8.5 0M1330.23 1473.82a4.25 4.25 0 1 0 8.5 0a4.25 4.25 0 1 0 -8.5 0M1283.17 1488.41a4.25 4.25 0 1 0 8.5 0a4.25 4.25 0 1 0 -8.5 0M1418.26 1520.82a4.25 4.25 0 1 0 8.5 0a4.25 4.25 0 1 0 -8.5 0M1406.17 1523.21a4.25 4.25 0 1 0 8.5 0a4.25 4.25 0 1 0 -8.5 0M1382.01 1528a4.25 4.25 0 1 0 8.5 0a4.25 4.25 0 1 0 -8.5 0M1369.93 1530.39a4.25 4.25 0 1 0 8.5 0a4.25 4.25 0 1 0 -8.5 0M1357.85 1532.78a4.25 4.25 0 1 0 8.5 0a4.25 4.25 0 1 0 -8.5 0M1345.77 1535.17a4.25 4.25 0 1 0 8.5 0a4.25 4.25 0 1 0 -8.5 0M1333.69 1537.57a4.25 4.25 0 1 0 8.5 0a4.25 4.25 0 1 0 -8.5 0M1309.52 1542.35a4.25 4.25 0 1 0 8.5 0a4.25 4.25 0 1 0 -8.5 0M1297.44 1544.74a4.25 4.25 0 1 0 8.5 0a4.25 4.25 0 1 0 -8.5 0M1428.37 1591.17a4.25 4.25 0 1 0 8.5 0a4.25 4.25 0 1 0 -8.5 0M1416.11 1592.27a4.25 4.25 0 1 0 8.5 0a4.25 4.25 0 1 0 -8.5 0M1391.58 1594.49a4.25 4.25 0 1 0 8.5 0a4.25 4.25 0 1 0 -8.5 0M1379.31 1595.6a4.25 4.25 0 1 0 8.5 0a4.25 4.25 0 1 0 -8.5 0M1367.04 1596.71a4.25 4.25 0 1 0 8.5 0a4.25 4.25 0 1 0 -8.5 0M1354.78 1597.82a4.25 4.25 0 1 0 8.5 0a4.25 4.25 0 1 0 -8.5 0M1342.51 1598.93a4.25 4.25 0 1 0 8.5 0a4.25 4.25 0 1 0 -8.5 0M1317.98 1601.15a4.25 4.25 0 1 0 8.5 0a4.25 4.25 0 1 0 -8.5 0M1305.72 1602.26a4.25 4.25 0 1 0 8.5 0a4.25 4.25 0 1 0 -8.5 0M1431.04 1662.18a4.25 4.25 0 1 0 8.5 0a4.25 4.25 0 1 0 -8.5 0M1418.73 1662a4.25 4.25 0 1 0 8.5 0a4.25 4.25 0 1 0 -8.5 0M1406.41 1661.81a4.25 4.25 0 1 0 8.5 0a4.25 4.25 0 1 0 -8.5 0M1394.1 1661.63a4.25 4.25 0 1 0 8.5 0a4.25 4.25 0 1 0 -8.5 0M1381.78 1661.44a4.25 4.25 0 1 0 8.5 0a4.25 4.25 0 1 0 -8.5 0M1369.47 1661.26a4.25 4.25 0 1 0 8.5 0a4.25 4.25 0 1 0 -8.5 0M1357.16 1661.07a4.25 4.25 0 1 0 8.5 0a4.25 4.25 0 1 0 -8.5 0M1344.84 1660.88a4.25 4.25 0 1 0 8.5 0a4.25 4.25 0 1 0 -8.5 0M1320.21 1660.51a4.25 4.25 0 1 0 8.5 0a4.25 4.25 0 1 0 -8.5 0M1307.9 1660.33a4.25 4.25 0 1 0 8.5 0a4.25 4.25 0 1 0 -8.5 0M1283.27 1659.96a4.25 4.25 0 1 0 8.5 0a4.25 4.25 0 1 0 -8.5 0M1426.23 1733.09a4.25 4.25 0 1 0 8.5 0a4.25 4.25 0 1 0 -8.5 0M1414.01 1731.61a4.25 4.25 0 1 0 8.5 0a4.25 4.25 0 1 0 -8.5 0M1389.55 1728.65a4.25 4.25 0 1 0 8.5 0a4.25 4.25 0 1 0 -8.5 0M1377.33 1727.17a4.25 4.25 0 1 0 8.5 0a4.25 4.25 0 1 0 -8.5 0M1365.1 1725.7a4.25 4.25 0 1 0 8.5 0a4.25 4.25 0 1 0 -8.5 0M1352.87 1724.22a4.25 4.25 0 1 0 8.5 0a4.25 4.25 0 1 0 -8.5 0M1340.65 1722.74a4.25 4.25 0 1 0 8.5 0a4.25 4.25 0 1 0 -8.5 0M1303.97 1718.3a4.25 4.25 0 1 0 8.5 0a4.25 4.25 0 1 0 -8.5 0M1414 1803.1a4.25 4.25 0 1 0 8.5 0a4.25 4.25 0 1 0 -8.5 0M1402 1800.34a4.25 4.25 0 1 0 8.5 0a4.25 4.25 0 1 0 -8.5 0M1389.99 1797.59a4.25 4.25 0 1 0 8.5 0a4.25 4.25 0 1 0 -8.5 0M1377.99 1794.83a4.25 4.25 0 1 0 8.5 0a4.25 4.25 0 1 0 -8.5 0M1365.98 1792.08a4.25 4.25 0 1 0 8.5 0a4.25 4.25 0 1 0 -8.5 0M1353.98 1789.32a4.25 4.25 0 1 0 8.5 0a4.25 4.25 0 1 0 -8.5 0M1341.98 1786.57a4.25 4.25 0 1 0 8.5 0a4.25 4.25 0 1 0 -8.5 0M1329.97 1783.81a4.25 4.25 0 1 0 8.5 0a4.25 4.25 0 1 0 -8.5 0M1305.97 1778.3a4.25 4.25 0 1 0 8.5 0a4.25 4.25 0 1 0 -8.5 0M1293.96 1775.54a4.25 4.25 0 1 0 8.5 0a4.25 4.25 0 1 0 -8.5 0M1394.48 1871.43a4.25 4.25 0 1 0 8.5 0a4.25 4.25 0 1 0 -8.5 0M1382.83 1867.43a4.25 4.25 0 1 0 8.5 0a4.25 4.25 0 1 0 -8.5 0M1359.53 1859.43a4.25 4.25 0 1 0 8.5 0a4.25 4.25 0 1 0 -8.5 0M1347.89 1855.43a4.25 4.25 0 1 0 8.5 0a4.25 4.25 0 1 0 -8.5 0M1336.24 1851.43a4.25 4.25 0 1 0 8.5 0a4.25 4.25 0 1 0 -8.5 0M1324.59 1847.42a4.25 4.25 0 1 0 8.5 0a4.25 4.25 0 1 0 -8.5 0M1312.94 1843.42a4.25 4.25 0 1 0 8.5 0a4.25 4.25 0 1 0 -8.5 0M1289.65 1835.42a4.25 4.25 0 1 0 8.5 0a4.25 4.25 0 1 0 -8.5 0M1278 1831.42a4.25 4.25 0 1 0 8.5 0a4.25 4.25 0 1 0 -8.5 0M1367.88 1937.34a4.25 4.25 0 1 0 8.5 0a4.25 4.25 0 1 0 -8.5 0M1356.72 1932.13a4.25 4.25 0 1 0 8.5 0a4.25 4.25 0 1 0 -8.5 0M1345.56 1926.93a4.25 4.25 0 1 0 8.5 0a4.25 4.25 0 1 0 -8.5 0M1334.39 1921.73a4.25 4.25 0 1 0 8.5 0a4.25 4.25 0 1 0 -8.5 0M1323.23 1916.52a4.25 4.25 0 1 0 8.5 0a4.25 4.25 0 1 0 -8.5 0M1312.07 1911.32a4.25 4.25 0 1 0 8.5 0a4.25 4.25 0 1 0 -8.5 0M1300.91 1906.12a4.25 4.25 0 1 0 8.5 0a4.25 4.25 0 1 0 -8.5 0M1289.74 1900.91a4.25 4.25 0 1 0 8.5 0a4.25 4.25 0 1 0 -8.5 0M1267.42 1890.51a4.25 4.25 0 1 0 8.5 0a4.25 4.25 0 1 0 -8.5 0M1256.26 1885.3a4.25 4.25 0 1 0 8.5 0a4.25 4.25 0 1 0 -8.5 0M1334.51 2000.08a4.25 4.25 0 1 0 8.5 0a4.25 4.25 0 1 0 -8.5 0M1323.95 1993.74a4.25 4.25 0 1 0 8.5 0a4.25 4.25 0 1 0 -8.5 0M1302.85 1981.04a4.25 4.25 0 1 0 8.5 0a4.25 4.25 0 1 0 -8.5 0M1292.29 1974.69a4.25 4.25 0 1 0 8.5 0a4.25 4.25 0 1 0 -8.5 0M1281.74 1968.35a4.25 4.25 0 1 0 8.5 0a4.25 4.25 0 1 0 -8.5 0M1271.18 1962a4.25 4.25 0 1 0 8.5 0a4.25 4.25 0 1 0 -8.5 0M1260.63 1955.65a4.25 4.25 0 1 0 8.5 0a4.25 4.25 0 1 0 -8.5 0M1239.52 1942.96a4.25 4.25 0 1 0 8.5 0a4.25 4.25 0 1 0 -8.5 0M1228.97 1936.61a4.25 4.25 0 1 0 8.5 0a4.25 4.25 0 1 0 -8.5 0M1218.41 1930.26a4.25 4.25 0 1 0 8.5 0a4.25 4.25 0 1 0 -8.5 0M1207.86 1923.91a4.25 4.25 0 1 0 8.5 0a4.25 4.25 0 1 0 -8.5 0M1294.73 2058.97a4.25 4.25 0 1 0 8.5 0a4.25 4.25 0 1 0 -8.5 0M1284.9 2051.55a4.25 4.25 0 1 0 8.5 0a4.25 4.25 0 1 0 -8.5 0M1275.07 2044.13a4.25 4.25 0 1 0 8.5 0a4.25 4.25 0 1 0 -8.5 0M1265.24 2036.71a4.25 4.25 0 1 0 8.5 0a4.25 4.25 0 1 0 -8.5 0M1255.41 2029.29a4.25 4.25 0 1 0 8.5 0a4.25 4.25 0 1 0 -8.5 0M1245.58 2021.87a4.25 4.25 0 1 0 8.5 0a4.25 4.25 0 1 0 -8.5 0M1235.75 2014.45a4.25 4.25 0 1 0 8.5 0a4.25 4.25 0 1 0 -8.5 0M1225.93 2007.02a4.25 4.25 0 1 0 8.5 0a4.25 4.25 0 1 0 -8.5 0M1206.27 1992.18a4.25 4.25 0 1 0 8.5 0a4.25 4.25 0 1 0 -8.5 0M1196.44 1984.76a4.25 4.25 0 1 0 8.5 0a4.25 4.25 0 1 0 -8.5 0M1186.61 1977.34a4.25 4.25 0 1 0 8.5 0a4.25 4.25 0 1 0 -8.5 0M1176.78 1969.92a4.25 4.25 0 1 0 8.5 0a4.25 4.25 0 1 0 -8.5 0M1248.98 2113.36a4.25 4.25 0 1 0 8.5 0a4.25 4.25 0 1 0 -8.5 0M1239.98 2104.95a4.25 4.25 0 1 0 8.5 0a4.25 4.25 0 1 0 -8.5 0M1230.99 2096.53a4.25 4.25 0 1 0 8.5 0a4.25 4.25 0 1 0 -8.5 0M1221.99 2088.12a4.25 4.25 0 1 0 8.5 0a4.25 4.25 0 1 0 -8.5 0M1213 2079.71a4.25 4.25 0 1 0 8.5 0a4.25 4.25 0 1 0 -8.5 0M1204 2071.29a4.25 4.25 0 1 0 8.5 0a4.25 4.25 0 1 0 -8.5 0M1195.01 2062.88a4.25 4.25 0 1 0 8.5 0a4.25 4.25 0 1 0 -8.5 0M1186.02 2054.47a4.25 4.25 0 1 0 8.5 0a4.25 4.25 0 1 0 -8.5 0M1168.03 2037.64a4.25 4.25 0 1 0 8.5 0a4.25 4.25 0 1 0 -8.5 0M1159.03 2029.23a4.25 4.25 0 1 0 8.5 0a4.25 4.25 0 1 0 -8.5 0M1197.76 2162.63a4.25 4.25 0 1 0 8.5 0a4.25 4.25 0 1 0 -8.5 0M1189.7 2153.32a4.25 4.25 0 1 0 8.5 0a4.25 4.25 0 1 0 -8.5 0M1173.58 2134.7a4.25 4.25 0 1 0 8.5 0a4.25 4.25 0 1 0 -8.5 0M1165.52 2125.39a4.25 4.25 0 1 0 8.5 0a4.25 4.25 0 1 0 -8.5 0M1157.46 2116.08a4.25 4.25 0 1 0 8.5 0a4.25 4.25 0 1 0 -8.5 0M1149.4 2106.76a4.25 4.25 0 1 0 8.5 0a4.25 4.25 0 1 0 -8.5 0M1141.34 2097.45a4.25 4.25 0 1 0 8.5 0a4.25 4.25 0 1 0 -8.5 0M1125.22 2078.83a4.25 4.25 0 1 0 8.5 0a4.25 4.25 0 1 0 -8.5 0M1117.16 2069.52a4.25 4.25 0 1 0 8.5 0a4.25 4.25 0 1 0 -8.5 0M1141.66 2206.26a4.25 4.25 0 1 0 8.5 0a4.25 4.25 0 1 0 -8.5 0M1120.54 2175.93a4.25 4.25 0 1 0 8.5 0a4.25 4.25 0 1 0 -8.5 0M1113.51 2165.83a4.25 4.25 0 1 0 8.5 0a4.25 4.25 0 1 0 -8.5 0M1106.47 2155.72a4.25 4.25 0 1 0 8.5 0a4.25 4.25 0 1 0 -8.5 0M1099.43 2145.61a4.25 4.25 0 1 0 8.5 0a4.25 4.25 0 1 0 -8.5 0M1078.32 2115.29a4.25 4.25 0 1 0 8.5 0a4.25 4.25 0 1 0 -8.5 0M1071.28 2105.18a4.25 4.25 0 1 0 8.5 0a4.25 4.25 0 1 0 -8.5 0M1057.21 2084.97a4.25 4.25 0 1 0 8.5 0a4.25 4.25 0 1 0 -8.5 0M1081.28 2243.74a4.25 4.25 0 1 0 8.5 0a4.25 4.25 0 1 0 -8.5 0M1069.4 2222.16a4.25 4.25 0 1 0 8.5 0a4.25 4.25 0 1 0 -8.5 0M1063.47 2211.37a4.25 4.25 0 1 0 8.5 0a4.25 4.25 0 1 0 -8.5 0M1057.53 2200.58a4.25 4.25 0 1 0 8.5 0a4.25 4.25 0 1 0 -8.5 0M1051.6 2189.79a4.25 4.25 0 1 0 8.5 0a4.25 4.25 0 1 0 -8.5 0M1045.66 2178.99a4.25 4.25 0 1 0 8.5 0a4.25 4.25 0 1 0 -8.5 0M1027.85 2146.62a4.25 4.25 0 1 0 8.5 0a4.25 4.25 0 1 0 -8.5 0M1021.91 2135.83a4.25 4.25 0 1 0 8.5 0a4.25 4.25 0 1 0 -8.5 0M1017.29 2274.67a4.25 4.25 0 1 0 8.5 0a4.25 4.25 0 1 0 -8.5 0M1012.52 2263.32a4.25 4.25 0 1 0 8.5 0a4.25 4.25 0 1 0 -8.5 0M1002.98 2240.61a4.25 4.25 0 1 0 8.5 0a4.25 4.25 0 1 0 -8.5 0M998.21 2229.25a4.25 4.25 0 1 0 8.5 0a4.25 4.25 0 1 0 -8.5 0M993.44 2217.9a4.25 4.25 0 1 0 8.5 0a4.25 4.25 0 1 0 -8.5 0M988.68 2206.54a4.25 4.25 0 1 0 8.5 0a4.25 4.25 0 1 0 -8.5 0M983.91 2195.19a4.25 4.25 0 1 0 8.5 0a4.25 4.25 0 1 0 -8.5 0M974.37 2172.48a4.25 4.25 0 1 0 8.5 0a4.25 4.25 0 1 0 -8.5 0M969.6 2161.12a4.25 4.25 0 1 0 8.5 0a4.25 4.25 0 1 0 -8.5 0M950.41 2298.71a4.25 4.25 0 1 0 8.5 0a4.25 4.25 0 1 0 -8.5 0M946.86 2286.91a4.25 4.25 0 1 0 8.5 0a4.25 4.25 0 1 0 -8.5 0M943.31 2275.12a4.25 4.25 0 1 0 8.5 0a4.25 4.25 0 1 0 -8.5 0M939.76 2263.33a4.25 4.25 0 1 0 8.5 0a4.25 4.25 0 1 0 -8.5 0M936.21 2251.53a4.25 4.25 0 1 0 8.5 0a4.25 4.25 0 1 0 -8.5 0M932.66 2239.74a4.25 4.25 0 1 0 8.5 0a4.25 4.25 0 1 0 -8.5 0M929.11 2227.95a4.25 4.25 0 1 0 8.5 0a4.25 4.25 0 1 0 -8.5 0M925.56 2216.15a4.25 4.25 0 1 0 8.5 0a4.25 4.25 0 1 0 -8.5 0M918.46 2192.57a4.25 4.25 0 1 0 8.5 0a4.25 4.25 0 1 0 -8.5 0M914.91 2180.78a4.25 4.25 0 1 0 8.5 0a4.25 4.25 0 1 0 -8.5 0M881.38 2315.58a4.25 4.25 0 1 0 8.5 0a4.25 4.25 0 1 0 -8.5 0M879.08 2303.48a4.25 4.25 0 1 0 8.5 0a4.25 4.25 0 1 0 -8.5 0M876.79 2291.38a4.25 4.25 0 1 0 8.5 0a4.25 4.25 0 1 0 -8.5 0M874.5 2279.28a4.25 4.25 0 1 0 8.5 0a4.25 4.25 0 1 0 -8.5 0M872.21 2267.18a4.25 4.25 0 1 0 8.5 0a4.25 4.25 0 1 0 -8.5 0M869.92 2255.08a4.25 4.25 0 1 0 8.5 0a4.25 4.25 0 1 0 -8.5 0M867.63 2242.98a4.25 4.25 0 1 0 8.5 0a4.25 4.25 0 1 0 -8.5 0M865.34 2230.88a4.25 4.25 0 1 0 8.5 0a4.25 4.25 0 1 0 -8.5 0M860.76 2206.67a4.25 4.25 0 1 0 8.5 0a4.25 4.25 0 1 0 -8.5 0M858.47 2194.57a4.25 4.25 0 1 0 8.5 0a4.25 4.25 0 1 0 -8.5 0M856.18 2182.47a4.25 4.25 0 1 0 8.5 0a4.25 4.25 0 1 0 -8.5 0M853.88 2170.37a4.25 4.25 0 1 0 8.5 0a4.25 4.25 0 1 0 -8.5 0M810.95 2325.11a4.25 4.25 0 1 0 8.5 0a4.25 4.25 0 1 0 -8.5 0M809.94 2312.83a4.25 4.25 0 1 0 8.5 0a4.25 4.25 0 1 0 -8.5 0M808.93 2300.56a4.25 4.25 0 1 0 8.5 0a4.25 4.25 0 1 0 -8.5 0M807.93 2288.29a4.25 4.25 0 1 0 8.5 0a4.25 4.25 0 1 0 -8.5 0M806.92 2276.01a4.25 4.25 0 1 0 8.5 0a4.25 4.25 0 1 0 -8.5 0M805.91 2263.74a4.25 4.25 0 1 0 8.5 0a4.25 4.25 0 1 0 -8.5 0M804.91 2251.46a4.25 4.25 0 1 0 8.5 0a4.25 4.25 0 1 0 -8.5 0M803.9 2239.19a4.25 4.25 0 1 0 8.5 0a4.25 4.25 0 1 0 -8.5 0M801.89 2214.64a4.25 4.25 0 1 0 8.5 0a4.25 4.25 0 1 0 -8.5 0M800.88 2202.36a4.25 4.25 0 1 0 8.5 0a4.25 4.25 0 1 0 -8.5 0M798.87 2177.81a4.25 4.25 0 1 0 8.5 0a4.25 4.25 0 1 0 -8.5 0M739.91 2327.18a4.25 4.25 0 1 0 8.5 0a4.25 4.25 0 1 0 -8.5 0M740.2 2314.87a4.25 4.25 0 1 0 8.5 0a4.25 4.25 0 1 0 -8.5 0M740.49 2302.56a4.25 4.25 0 1 0 8.5 0a4.25 4.25 0 1 0 -8.5 0M741.06 2277.93a4.25 4.25 0 1 0 8.5 0a4.25 4.25 0 1 0 -8.5 0M741.35 2265.62a4.25 4.25 0 1 0 8.5 0a4.25 4.25 0 1 0 -8.5 0M741.64 2253.31a4.25 4.25 0 1 0 8.5 0a4.25 4.25 0 1 0 -8.5 0M741.93 2241a4.25 4.25 0 1 0 8.5 0a4.25 4.25 0 1 0 -8.5 0M742.51 2216.37a4.25 4.25 0 1 0 8.5 0a4.25 4.25 0 1 0 -8.5 0M669.05 2321.78a4.25 4.25 0 1 0 8.5 0a4.25 4.25 0 1 0 -8.5 0M670.63 2309.57a4.25 4.25 0 1 0 8.5 0a4.25 4.25 0 1 0 -8.5 0M673.79 2285.14a4.25 4.25 0 1 0 8.5 0a4.25 4.25 0 1 0 -8.5 0M675.37 2272.92a4.25 4.25 0 1 0 8.5 0a4.25 4.25 0 1 0 -8.5 0M676.95 2260.71a4.25 4.25 0 1 0 8.5 0a4.25 4.25 0 1 0 -8.5 0M678.53 2248.5a4.25 4.25 0 1 0 8.5 0a4.25 4.25 0 1 0 -8.5 0M680.11 2236.28a4.25 4.25 0 1 0 8.5 0a4.25 4.25 0 1 0 -8.5 0M683.28 2211.85a4.25 4.25 0 1 0 8.5 0a4.25 4.25 0 1 0 -8.5 0M684.86 2199.64a4.25 4.25 0 1 0 8.5 0a4.25 4.25 0 1 0 -8.5 0M599.14 2308.96a4.25 4.25 0 1 0 8.5 0a4.25 4.25 0 1 0 -8.5 0M607.71 2273.02a4.25 4.25 0 1 0 8.5 0a4.25 4.25 0 1 0 -8.5 0M610.57 2261.04a4.25 4.25 0 1 0 8.5 0a4.25 4.25 0 1 0 -8.5 0M613.42 2249.06a4.25 4.25 0 1 0 8.5 0a4.25 4.25 0 1 0 -8.5 0M616.28 2237.08a4.25 4.25 0 1 0 8.5 0a4.25 4.25 0 1 0 -8.5 0M627.7 2189.16a4.25 4.25 0 1 0 8.5 0a4.25 4.25 0 1 0 -8.5 0M530.97 2288.87a4.25 4.25 0 1 0 8.5 0a4.25 4.25 0 1 0 -8.5 0M543.27 2254.03a4.25 4.25 0 1 0 8.5 0a4.25 4.25 0 1 0 -8.5 0M547.37 2242.41a4.25 4.25 0 1 0 8.5 0a4.25 4.25 0 1 0 -8.5 0M551.47 2230.8a4.25 4.25 0 1 0 8.5 0a4.25 4.25 0 1 0 -8.5 0M555.57 2219.18a4.25 4.25 0 1 0 8.5 0a4.25 4.25 0 1 0 -8.5 0M567.86 2184.34a4.25 4.25 0 1 0 8.5 0a4.25 4.25 0 1 0 -8.5 0M571.96 2172.73a4.25 4.25 0 1 0 8.5 0a4.25 4.25 0 1 0 -8.5 0M465.29 2261.72a4.25 4.25 0 1 0 8.5 0a4.25 4.25 0 1 0 -8.5 0M486.48 2217.25a4.25 4.25 0 1 0 8.5 0a4.25 4.25 0 1 0 -8.5 0M491.78 2206.13a4.25 4.25 0 1 0 8.5 0a4.25 4.25 0 1 0 -8.5 0M497.07 2195.01a4.25 4.25 0 1 0 8.5 0a4.25 4.25 0 1 0 -8.5 0M512.96 2161.65a4.25 4.25 0 1 0 8.5 0a4.25 4.25 0 1 0 -8.5 0M402.83 2227.82a4.25 4.25 0 1 0 8.5 0a4.25 4.25 0 1 0 -8.5 0M428.57 2185.82a4.25 4.25 0 1 0 8.5 0a4.25 4.25 0 1 0 -8.5 0M435.01 2175.32a4.25 4.25 0 1 0 8.5 0a4.25 4.25 0 1 0 -8.5 0M441.45 2164.82a4.25 4.25 0 1 0 8.5 0a4.25 4.25 0 1 0 -8.5 0M344.28 2187.55a4.25 4.25 0 1 0 8.5 0a4.25 4.25 0 1 0 -8.5 0M351.78 2177.78a4.25 4.25 0 1 0 8.5 0a4.25 4.25 0 1 0 -8.5 0M366.79 2158.25a4.25 4.25 0 1 0 8.5 0a4.25 4.25 0 1 0 -8.5 0M374.29 2148.48a4.25 4.25 0 1 0 8.5 0a4.25 4.25 0 1 0 -8.5 0M381.79 2138.72a4.25 4.25 0 1 0 8.5 0a4.25 4.25 0 1 0 -8.5 0M389.3 2128.95a4.25 4.25 0 1 0 8.5 0a4.25 4.25 0 1 0 -8.5 0M396.8 2119.18a4.25 4.25 0 1 0 8.5 0a4.25 4.25 0 1 0 -8.5 0M411.81 2099.65a4.25 4.25 0 1 0 8.5 0a4.25 4.25 0 1 0 -8.5 0M419.31 2089.89a4.25 4.25 0 1 0 8.5 0a4.25 4.25 0 1 0 -8.5 0M290.28 2141.34a4.25 4.25 0 1 0 8.5 0a4.25 4.25 0 1 0 -8.5 0M298.76 2132.42a4.25 4.25 0 1 0 8.5 0a4.25 4.25 0 1 0 -8.5 0M315.74 2114.57a4.25 4.25 0 1 0 8.5 0a4.25 4.25 0 1 0 -8.5 0M324.23 2105.65a4.25 4.25 0 1 0 8.5 0a4.25 4.25 0 1 0 -8.5 0M332.72 2096.73a4.25 4.25 0 1 0 8.5 0a4.25 4.25 0 1 0 -8.5 0M341.21 2087.8a4.25 4.25 0 1 0 8.5 0a4.25 4.25 0 1 0 -8.5 0M349.69 2078.88a4.25 4.25 0 1 0 8.5 0a4.25 4.25 0 1 0 -8.5 0M366.67 2061.03a4.25 4.25 0 1 0 8.5 0a4.25 4.25 0 1 0 -8.5 0M375.16 2052.11a4.25 4.25 0 1 0 8.5 0a4.25 4.25 0 1 0 -8.5 0M241.43 2089.72a4.25 4.25 0 1 0 8.5 0a4.25 4.25 0 1 0 -8.5 0M250.81 2081.74a4.25 4.25 0 1 0 8.5 0a4.25 4.25 0 1 0 -8.5 0M269.57 2065.77a4.25 4.25 0 1 0 8.5 0a4.25 4.25 0 1 0 -8.5 0M278.95 2057.79a4.25 4.25 0 1 0 8.5 0a4.25 4.25 0 1 0 -8.5 0M288.33 2049.81a4.25 4.25 0 1 0 8.5 0a4.25 4.25 0 1 0 -8.5 0M297.7 2041.83a4.25 4.25 0 1 0 8.5 0a4.25 4.25 0 1 0 -8.5 0M307.08 2033.84a4.25 4.25 0 1 0 8.5 0a4.25 4.25 0 1 0 -8.5 0M335.22 2009.9a4.25 4.25 0 1 0 8.5 0a4.25 4.25 0 1 0 -8.5 0M198.28 2033.25a4.25 4.25 0 1 0 8.5 0a4.25 4.25 0 1 0 -8.5 0M208.45 2026.3a4.25 4.25 0 1 0 8.5 0a4.25 4.25 0 1 0 -8.5 0M228.78 2012.39a4.25 4.25 0 1 0 8.5 0a4.25 4.25 0 1 0 -8.5 0M238.94 2005.44a4.25 4.25 0 1 0 8.5 0a4.25 4.25 0 1 0 -8.5 0M249.11 1998.49a4.25 4.25 0 1 0 8.5 0a4.25 4.25 0 1 0 -8.5 0M259.28 1991.54a4.25 4.25 0 1 0 8.5 0a4.25 4.25 0 1 0 -8.5 0M269.44 1984.58a4.25 4.25 0 1 0 8.5 0a4.25 4.25 0 1 0 -8.5 0M289.77 1970.68a4.25 4.25 0 1 0 8.5 0a4.25 4.25 0 1 0 -8.5 0M299.94 1963.73a4.25 4.25 0 1 0 8.5 0a4.25 4.25 0 1 0 -8.5 0M161.3 1972.56a4.25 4.25 0 1 0 8.5 0a4.25 4.25 0 1 0 -8.5 0M172.14 1966.71a4.25 4.25 0 1 0 8.5 0a4.25 4.25 0 1 0 -8.5 0M204.67 1949.18a4.25 4.25 0 1 0 8.5 0a4.25 4.25 0 1 0 -8.5 0M215.51 1943.33a4.25 4.25 0 1 0 8.5 0a4.25 4.25 0 1 0 -8.5 0M226.35 1937.48a4.25 4.25 0 1 0 8.5 0a4.25 4.25 0 1 0 -8.5 0M237.19 1931.64a4.25 4.25 0 1 0 8.5 0a4.25 4.25 0 1 0 -8.5 0M258.87 1919.95a4.25 4.25 0 1 0 8.5 0a4.25 4.25 0 1 0 -8.5 0M130.91 1908.32a4.25 4.25 0 1 0 8.5 0a4.25 4.25 0 1 0 -8.5 0M142.3 1903.64a4.25 4.25 0 1 0 8.5 0a4.25 4.25 0 1 0 -8.5 0M176.49 1889.62a4.25 4.25 0 1 0 8.5 0a4.25 4.25 0 1 0 -8.5 0M187.88 1884.95a4.25 4.25 0 1 0 8.5 0a4.25 4.25 0 1 0 -8.5 0M199.28 1880.27a4.25 4.25 0 1 0 8.5 0a4.25 4.25 0 1 0 -8.5 0M210.67 1875.6a4.25 4.25 0 1 0 8.5 0a4.25 4.25 0 1 0 -8.5 0M233.46 1866.25a4.25 4.25 0 1 0 8.5 0a4.25 4.25 0 1 0 -8.5 0M107.44 1841.24a4.25 4.25 0 1 0 8.5 0a4.25 4.25 0 1 0 -8.5 0M119.26 1837.79a4.25 4.25 0 1 0 8.5 0a4.25 4.25 0 1 0 -8.5 0M154.73 1827.43a4.25 4.25 0 1 0 8.5 0a4.25 4.25 0 1 0 -8.5 0M166.55 1823.98a4.25 4.25 0 1 0 8.5 0a4.25 4.25 0 1 0 -8.5 0M178.37 1820.53a4.25 4.25 0 1 0 8.5 0a4.25 4.25 0 1 0 -8.5 0M190.19 1817.08a4.25 4.25 0 1 0 8.5 0a4.25 4.25 0 1 0 -8.5 0M213.84 1810.18a4.25 4.25 0 1 0 8.5 0a4.25 4.25 0 1 0 -8.5 0M91.14 1772.06a4.25 4.25 0 1 0 8.5 0a4.25 4.25 0 1 0 -8.5 0M103.26 1769.87a4.25 4.25 0 1 0 8.5 0a4.25 4.25 0 1 0 -8.5 0M139.62 1763.3a4.25 4.25 0 1 0 8.5 0a4.25 4.25 0 1 0 -8.5 0M151.74 1761.11a4.25 4.25 0 1 0 8.5 0a4.25 4.25 0 1 0 -8.5 0M163.86 1758.93a4.25 4.25 0 1 0 8.5 0a4.25 4.25 0 1 0 -8.5 0M175.98 1756.74a4.25 4.25 0 1 0 8.5 0a4.25 4.25 0 1 0 -8.5 0M200.22 1752.36a4.25 4.25 0 1 0 8.5 0a4.25 4.25 0 1 0 -8.5 0M236.57 1745.79a4.25 4.25 0 1 0 8.5 0a4.25 4.25 0 1 0 -8.5 0M82.2 1701.56a4.25 4.25 0 1 0 8.5 0a4.25 4.25 0 1 0 -8.5 0M94.48 1700.65a4.25 4.25 0 1 0 8.5 0a4.25 4.25 0 1 0 -8.5 0M106.77 1699.75a4.25 4.25 0 1 0 8.5 0a4.25 4.25 0 1 0 -8.5 0M131.33 1697.94a4.25 4.25 0 1 0 8.5 0a4.25 4.25 0 1 0 -8.5 0M143.62 1697.04a4.25 4.25 0 1 0 8.5 0a4.25 4.25 0 1 0 -8.5 0M155.9 1696.13a4.25 4.25 0 1 0 8.5 0a4.25 4.25 0 1 0 -8.5 0M168.18 1695.23a4.25 4.25 0 1 0 8.5 0a4.25 4.25 0 1 0 -8.5 0M192.75 1693.42a4.25 4.25 0 1 0 8.5 0a4.25 4.25 0 1 0 -8.5 0M229.59 1690.71a4.25 4.25 0 1 0 8.5 0a4.25 4.25 0 1 0 -8.5 0M80.72 1630.5a4.25 4.25 0 1 0 8.5 0a4.25 4.25 0 1 0 -8.5 0M93.03 1630.9a4.25 4.25 0 1 0 8.5 0a4.25 4.25 0 1 0 -8.5 0M105.34 1631.29a4.25 4.25 0 1 0 8.5 0a4.25 4.25 0 1 0 -8.5 0M117.65 1631.68a4.25 4.25 0 1 0 8.5 0a4.25 4.25 0 1 0 -8.5 0M129.96 1632.07a4.25 4.25 0 1 0 8.5 0a4.25 4.25 0 1 0 -8.5 0M142.27 1632.46a4.25 4.25 0 1 0 8.5 0a4.25 4.25 0 1 0 -8.5 0M154.58 1632.86a4.25 4.25 0 1 0 8.5 0a4.25 4.25 0 1 0 -8.5 0M166.89 1633.25a4.25 4.25 0 1 0 8.5 0a4.25 4.25 0 1 0 -8.5 0M191.51 1634.03a4.25 4.25 0 1 0 8.5 0a4.25 4.25 0 1 0 -8.5 0M203.82 1634.42a4.25 4.25 0 1 0 8.5 0a4.25 4.25 0 1 0 -8.5 0M216.13 1634.82a4.25 4.25 0 1 0 8.5 0a4.25 4.25 0 1 0 -8.5 0M228.44 1635.21a4.25 4.25 0 1 0 8.5 0a4.25 4.25 0 1 0 -8.5 0M86.72 1559.69a4.25 4.25 0 1 0 8.5 0a4.25 4.25 0 1 0 -8.5 0M98.92 1561.37a4.25 4.25 0 1 0 8.5 0a4.25 4.25 0 1 0 -8.5 0M123.32 1564.74a4.25 4.25 0 1 0 8.5 0a4.25 4.25 0 1 0 -8.5 0M135.52 1566.42a4.25 4.25 0 1 0 8.5 0a4.25 4.25 0 1 0 -8.5 0M147.72 1568.1a4.25 4.25 0 1 0 8.5 0a4.25 4.25 0 1 0 -8.5 0M159.92 1569.79a4.25 4.25 0 1 0 8.5 0a4.25 4.25 0 1 0 -8.5 0M172.12 1571.47a4.25 4.25 0 1 0 8.5 0a4.25 4.25 0 1 0 -8.5 0M196.52 1574.84a4.25 4.25 0 1 0 8.5 0a4.25 4.25 0 1 0 -8.5 0M208.72 1576.52a4.25 4.25 0 1 0 8.5 0a4.25 4.25 0 1 0 -8.5 0M100.12 1489.89a4.25 4.25 0 1 0 8.5 0a4.25 4.25 0 1 0 -8.5 0M112.08 1492.85a4.25 4.25 0 1 0 8.5 0a4.25 4.25 0 1 0 -8.5 0M135.99 1498.76a4.25 4.25 0 1 0 8.5 0a4.25 4.25 0 1 0 -8.5 0M147.95 1501.72a4.25 4.25 0 1 0 8.5 0a4.25 4.25 0 1 0 -8.5 0M159.9 1504.68a4.25 4.25 0 1 0 8.5 0a4.25 4.25 0 1 0 -8.5 0M171.86 1507.63a4.25 4.25 0 1 0 8.5 0a4.25 4.25 0 1 0 -8.5 0M183.82 1510.59a4.25 4.25 0 1 0 8.5 0a4.25 4.25 0 1 0 -8.5 0M207.73 1516.5a4.25 4.25 0 1 0 8.5 0a4.25 4.25 0 1 0 -8.5 0M219.68 1519.46a4.25 4.25 0 1 0 8.5 0a4.25 4.25 0 1 0 -8.5 0M243.59 1525.37a4.25 4.25 0 1 0 8.5 0a4.25 4.25 0 1 0 -8.5 0M120.79 1421.9a4.25 4.25 0 1 0 8.5 0a4.25 4.25 0 1 0 -8.5 0M132.37 1426.09a4.25 4.25 0 1 0 8.5 0a4.25 4.25 0 1 0 -8.5 0M143.95 1430.29a4.25 4.25 0 1 0 8.5 0a4.25 4.25 0 1 0 -8.5 0M155.53 1434.48a4.25 4.25 0 1 0 8.5 0a4.25 4.25 0 1 0 -8.5 0M167.11 1438.68a4.25 4.25 0 1 0 8.5 0a4.25 4.25 0 1 0 -8.5 0M178.68 1442.88a4.25 4.25 0 1 0 8.5 0a4.25 4.25 0 1 0 -8.5 0M190.26 1447.07a4.25 4.25 0 1 0 8.5 0a4.25 4.25 0 1 0 -8.5 0M201.84 1451.27a4.25 4.25 0 1 0 8.5 0a4.25 4.25 0 1 0 -8.5 0M225 1459.66a4.25 4.25 0 1 0 8.5 0a4.25 4.25 0 1 0 -8.5 0M236.58 1463.86a4.25 4.25 0 1 0 8.5 0a4.25 4.25 0 1 0 -8.5 0M259.74 1472.25a4.25 4.25 0 1 0 8.5 0a4.25 4.25 0 1 0 -8.5 0" fill="none" stroke="#b6b6dc" stroke-width="1"/>
<path d="M651.44 1147.41a4.25 4.25 0 1 0 8.5 0a4.25 4.25 0 1 0 -8.5 0M653.93 1159.47a4.25 4.25 0 1 0 8.5 0a4.25 4.25 0 1 0 -8.5 0M656.42 1171.53a4.25 4.25 0 1 0 8.5 0a4.25 4.25 0 1 0 -8.5 0M658.92 1183.59a4.25 4.25 0 1 0 8.5 0a4.25 4.25 0 1 0 -8.5 0M661.41 1195.65a4.25 4.25 0 1 0 8.5 0a4.25 4.25 0 1 0 -8.5 0M705.04 1139.24a4.25 4.25 0 1 0 8.5 0a4.25 4.25 0 1 0 -8.5 0M706.25 1151.49a4.25 4.25 0 1 0 8.5 0a4.25 4.25 0 1 0 -8.5 0M707.46 1163.75a4.25 4.25 0 1 0 8.5 0a4.25 4.25 0 1 0 -8.5 0M708.68 1176.01a4.25 4.25 0 1 0 8.5 0a4.25 4.25 0 1 0 -8.5 0M709.89 1188.26a4.25 4.25 0 1 0 8.5 0a4.25 4.25 0 1 0 -8.5 0M759.2 1136.75a4.25 4.25 0 1 0 8.5 0a4.25 4.25 0 1 0 -8.5 0M759.12 1149.06a4.25 4.25 0 1 0 8.5 0a4.25 4.25 0 1 0 -8.5 0M759.04 1161.38a4.25 4.25 0 1 0 8.5 0a4.25 4.25 0 1 0 -8.5 0M758.96 1173.69a4.25 4.25 0 1 0 8.5 0a4.25 4.25 0 1 0 -8.5 0M758.87 1186.01a4.25 4.25 0 1 0 8.5 0a4.25 4.25 0 1 0 -8.5 0M813.33 1139.96a4.25 4.25 0 1 0 8.5 0a4.25 4.25 0 1 0 -8.5 0M811.95 1152.2a4.25 4.25 0 1 0 8.5 0a4.25 4.25 0 1 0 -8.5 0M810.58 1164.44a4.25 4.25 0 1 0 8.5 0a4.25 4.25 0 1 0 -8.5 0M809.2 1176.68a4.25 4.25 0 1 0 8.5 0a4.25 4.25 0 1 0 -8.5 0M807.82 1188.92a4.25 4.25 0 1 0 8.5 0a4.25 4.25 0 1 0 -8.5 0M866.82 1148.85a4.25 4.25 0 1 0 8.5 0a4.25 4.25 0 1 0 -8.5 0M864.16 1160.88a4.25 4.25 0 1 0 8.5 0a4.25 4.25 0 1 0 -8.5 0M861.51 1172.9a4.25 4.25 0 1 0 8.5 0a4.25 4.25 0 1 0 -8.5 0M858.85 1184.93a4.25 4.25 0 1 0 8.5 0a4.25 4.25 0 1 0 -8.5 0M856.2 1196.95a4.25 4.25 0 1 0 8.5 0a4.25 4.25 0 1 0 -8.5 0M919.07 1163.31a4.25 4.25 0 1 0 8.5 0a4.25 4.25 0 1 0 -8.5 0M915.17 1174.99a4.25 4.25 0 1 0 8.5 0a4.25 4.25 0 1 0 -8.5 0M911.27 1186.67a4.25 4.25 0 1 0 8.5 0a4.25 4.25 0 1 0 -8.5 0M907.36 1198.35a4.25 4.25 0 1 0 8.5 0a4.25 4.25 0 1 0 -8.5 0M903.46 1210.03a4.25 4.25 0 1 0 8.5 0a4.25 4.25 0 1 0 -8.5 0M969.52 1183.18a4.25 4.25 0 1 0 8.5 0a4.25 4.25 0 1 0 -8.5 0M964.41 1194.38a4.25 4.25 0 1 0 8.5 0a4.25 4.25 0 1 0 -8.5 0M959.31 1205.59a4.25 4.25 0 1 0 8.5 0a4.25 4.25 0 1 0 -8.5 0M954.2 1216.79a4.25 4.25 0 1 0 8.5 0a4.25 4.25 0 1 0 -8.5 0M949.09 1228a4.25 4.25 0 1 0 8.5 0a4.25 4.25 0 1 0 -8.5 0M1017.61 1208.24a4.25 4.25 0 1 0 8.5 0a4.25 4.25 0 1 0 -8.5 0M1011.35 1218.84a4.25 4.25 0 1 0 8.5 0a4.25 4.25 0 1 0 -8.5 0M1005.09 1229.45a4.25 4.25 0 1 0 8.5 0a4.25 4.25 0 1 0 -8.5 0M998.83 1240.06a4.25 4.25 0 1 0 8.5 0a4.25 4.25 0 1 0 -8.5 0M992.57 1250.66a4.25 4.25 0 1 0 8.5 0a4.25 4.25 0 1 0 -8.5 0M1062.79 1238.21a4.25 4.25 0 1 0 8.5 0a4.25 4.25 0 1 0 -8.5 0M1055.45 1248.1a4.25 4.25 0 1 0 8.5 0a4.25 4.25 0 1 0 -8.5 0M1048.11 1257.99a4.25 4.25 0 1 0 8.5 0a4.25 4.25 0 1 0 -8.5 0M1040.77 1267.88a4.25 4.25 0 1 0 8.5 0a4.25 4.25 0 1 0 -8.5 0M1033.43 1277.77a4.25 4.25 0 1 0 8.5 0a4.25 4.25 0 1 0 -8.5 0M1104.57 1272.76a4.25 4.25 0 1 0 8.5 0a4.25 4.25 0 1 0 -8.5 0M1096.23 1281.83a4.25 4.25 0 1 0 8.5 0a4.25 4.25 0 1 0 -8.5 0M1087.9 1290.89a4.25 4.25 0 1 0 8.5 0a4.25 4.25 0 1 0 -8.5 0M1079.56 1299.96a4.25 4.25 0 1 0 8.5 0a4.25 4.25 0 1 0 -8.5 0M1071.22 1309.02a4.25 4.25 0 1 0 8.5 0a4.25 4.25 0 1 0 -8.5 0M1142.49 1311.52a4.25 4.25 0 1 0 8.5 0a4.25 4.25 0 1 0 -8.5 0M1133.25 1319.66a4.25 4.25 0 1 0 8.5 0a4.25 4.25 0 1 0 -8.5 0M1124 1327.8a4.25 4.25 0 1 0 8.5 0a4.25 4.25 0 1 0 -8.5 0M1114.76 1335.93a4.25 4.25 0 1 0 8.5 0a4.25 4.25 0 1 0 -8.5 0M1105.52 1344.07a4.25 4.25 0 1 0 8.5 0a4.25 4.25 0 1 0 -8.5 0M1176.13 1354.05a4.25 4.25 0 1 0 8.5 0a4.25 4.25 0 1 0 -8.5 0M1166.08 1361.17a4.25 4.25 0 1 0 8.5 0a4.25 4.25 0 1 0 -8.5 0M1156.03 1368.29a4.25 4.25 0 1 0 8.5 0a4.25 4.25 0 1 0 -8.5 0M1145.99 1375.41a4.25 4.25 0 1 0 8.5 0a4.25 4.25 0 1 0 -8.5 0M1135.94 1382.53a4.25 4.25 0 1 0 8.5 0a4.25 4.25 0 1 0 -8.5 0M1205.11 1399.87a4.25 4.25 0 1 0 8.5 0a4.25 4.25 0 1 0 -8.5 0M1194.37 1405.9a4.25 4.25 0 1 0 8.5 0a4.25 4.25 0 1 0 -8.5 0M1183.63 1411.92a4.25 4.25 0 1 0 8.5 0a4.25 4.25 0 1 0 -8.5 0M1172.89 1417.95a4.25 4.25 0 1 0 8.5 0a4.25 4.25 0 1 0 -8.5 0M1162.15 1423.98a4.25 4.25 0 1 0 8.5 0a4.25 4.25 0 1 0 -8.5 0M1229.12 1448.49a4.25 4.25 0 1 0 8.5 0a4.25 4.25 0 1 0 -8.5 0M1217.81 1453.35a4.25 4.25 0 1 0 8.5 0a4.25 4.25 0 1 0 -8.5 0M1206.49 1458.22a4.25 4.25 0 1 0 8.5 0a4.25 4.25 0 1 0 -8.5 0M1195.18 1463.08a4.25 4.25 0 1 0 8.5 0a4.25 4.25 0 1 0 -8.5 0M1183.86 1467.94a4.25 4.25 0 1 0 8.5 0a4.25 4.25 0 1 0 -8.5 0M1247.88 1499.36a4.25 4.25 0 1 0 8.5 0a4.25 4.25 0 1 0 -8.5 0M1236.12 1503.01a4.25 4.25 0 1 0 8.5 0a4.25 4.25 0 1 0 -8.5 0M1224.36 1506.65a4.25 4.25 0 1 0 8.5 0a4.25 4.25 0 1 0 -8.5 0M1212.6 1510.3a4.25 4.25 0 1 0 8.5 0a4.25 4.25 0 1 0 -8.5 0M1200.83 1513.95a4.25 4.25 0 1 0 8.5 0a4.25 4.25 0 1 0 -8.5 0M1261.2 1551.92a4.25 4.25 0 1 0 8.5 0a4.25 4.25 0 1 0 -8.5 0M1249.12 1554.31a4.25 4.25 0 1 0 8.5 0a4.25 4.25 0 1 0 -8.5 0M1237.04 1556.7a4.25 4.25 0 1 0 8.5 0a4.25 4.25 0 1 0 -8.5 0M1224.96 1559.09a4.25 4.25 0 1 0 8.5 0a4.25 4.25 0 1 0 -8.5 0M1212.88 1561.49a4.25 4.25 0 1 0 8.5 0a4.25 4.25 0 1 0 -8.5 0M1268.92 1605.59a4.25 4.25 0 1 0 8.5 0a4.25 4.25 0 1 0 -8.5 0M1256.65 1606.7a4.25 4.25 0 1 0 8.5 0a4.25 4.25 0 1 0 -8.5 0M1244.39 1607.81a4.25 4.25 0 1 0 8.5 0a4.25 4.25 0 1 0 -8.5 0M1232.12 1608.92a4.25 4.25 0 1 0 8.5 0a4.25 4.25 0 1 0 -8.5 0M1219.86 1610.02a4.25 4.25 0 1 0 8.5 0a4.25 4.25 0 1 0 -8.5 0M1270.95 1659.77a4.25 4.25 0 1 0 8.5 0a4.25 4.25 0 1 0 -8.5 0M1258.64 1659.58a4.25 4.25 0 1 0 8.5 0a4.25 4.25 0 1 0 -8.5 0M1246.33 1659.4a4.25 4.25 0 1 0 8.5 0a4.25 4.25 0 1 0 -8.5 0M1234.01 1659.21a4.25 4.25 0 1 0 8.5 0a4.25 4.25 0 1 0 -8.5 0M1221.7 1659.03a4.25 4.25 0 1 0 8.5 0a4.25 4.25 0 1 0 -8.5 0M1255.06 1712.39a4.25 4.25 0 1 0 8.5 0a4.25 4.25 0 1 0 -8.5 0M1242.83 1710.91a4.25 4.25 0 1 0 8.5 0a4.25 4.25 0 1 0 -8.5 0M1230.61 1709.43a4.25 4.25 0 1 0 8.5 0a4.25 4.25 0 1 0 -8.5 0M1218.38 1707.95a4.25 4.25 0 1 0 8.5 0a4.25 4.25 0 1 0 -8.5 0M1245.95 1764.52a4.25 4.25 0 1 0 8.5 0a4.25 4.25 0 1 0 -8.5 0M1233.95 1761.77a4.25 4.25 0 1 0 8.5 0a4.25 4.25 0 1 0 -8.5 0M1221.94 1759.01a4.25 4.25 0 1 0 8.5 0a4.25 4.25 0 1 0 -8.5 0M1209.94 1756.26a4.25 4.25 0 1 0 8.5 0a4.25 4.25 0 1 0 -8.5 0M1243.06 1819.41a4.25 4.25 0 1 0 8.5 0a4.25 4.25 0 1 0 -8.5 0M1231.41 1815.41a4.25 4.25 0 1 0 8.5 0a4.25 4.25 0 1 0 -8.5 0M1219.76 1811.41a4.25 4.25 0 1 0 8.5 0a4.25 4.25 0 1 0 -8.5 0M1208.12 1807.41a4.25 4.25 0 1 0 8.5 0a4.25 4.25 0 1 0 -8.5 0M1196.47 1803.41a4.25 4.25 0 1 0 8.5 0a4.25 4.25 0 1 0 -8.5 0M1222.77 1869.69a4.25 4.25 0 1 0 8.5 0a4.25 4.25 0 1 0 -8.5 0M1211.6 1864.49a4.25 4.25 0 1 0 8.5 0a4.25 4.25 0 1 0 -8.5 0M1200.44 1859.29a4.25 4.25 0 1 0 8.5 0a4.25 4.25 0 1 0 -8.5 0M1189.28 1854.08a4.25 4.25 0 1 0 8.5 0a4.25 4.25 0 1 0 -8.5 0M1178.12 1848.88a4.25 4.25 0 1 0 8.5 0a4.25 4.25 0 1 0 -8.5 0M1197.31 1917.57a4.25 4.25 0 1 0 8.5 0a4.25 4.25 0 1 0 -8.5 0M1186.75 1911.22a4.25 4.25 0 1 0 8.5 0a4.25 4.25 0 1 0 -8.5 0M1176.2 1904.87a4.25 4.25 0 1 0 8.5 0a4.25 4.25 0 1 0 -8.5 0M1165.64 1898.52a4.25 4.25 0 1 0 8.5 0a4.25 4.25 0 1 0 -8.5 0M1155.09 1892.18a4.25 4.25 0 1 0 8.5 0a4.25 4.25 0 1 0 -8.5 0M1166.95 1962.5a4.25 4.25 0 1 0 8.5 0a4.25 4.25 0 1 0 -8.5 0M1157.13 1955.07a4.25 4.25 0 1 0 8.5 0a4.25 4.25 0 1 0 -8.5 0M1147.3 1947.65a4.25 4.25 0 1 0 8.5 0a4.25 4.25 0 1 0 -8.5 0M1137.47 1940.23a4.25 4.25 0 1 0 8.5 0a4.25 4.25 0 1 0 -8.5 0M1127.64 1932.81a4.25 4.25 0 1 0 8.5 0a4.25 4.25 0 1 0 -8.5 0M1132.05 2003.99a4.25 4.25 0 1 0 8.5 0a4.25 4.25 0 1 0 -8.5 0M1123.06 1995.57a4.25 4.25 0 1 0 8.5 0a4.25 4.25 0 1 0 -8.5 0M1114.06 1987.16a4.25 4.25 0 1 0 8.5 0a4.25 4.25 0 1 0 -8.5 0M1105.07 1978.75a4.25 4.25 0 1 0 8.5 0a4.25 4.25 0 1 0 -8.5 0M1096.07 1970.33a4.25 4.25 0 1 0 8.5 0a4.25 4.25 0 1 0 -8.5 0M1092.98 2041.58a4.25 4.25 0 1 0 8.5 0a4.25 4.25 0 1 0 -8.5 0M1084.92 2032.27a4.25 4.25 0 1 0 8.5 0a4.25 4.25 0 1 0 -8.5 0M1076.86 2022.96a4.25 4.25 0 1 0 8.5 0a4.25 4.25 0 1 0 -8.5 0M1068.8 2013.65a4.25 4.25 0 1 0 8.5 0a4.25 4.25 0 1 0 -8.5 0M1060.74 2004.33a4.25 4.25 0 1 0 8.5 0a4.25 4.25 0 1 0 -8.5 0M1050.17 2074.86a4.25 4.25 0 1 0 8.5 0a4.25 4.25 0 1 0 -8.5 0M1043.13 2064.75a4.25 4.25 0 1 0 8.5 0a4.25 4.25 0 1 0 -8.5 0M1036.1 2054.65a4.25 4.25 0 1 0 8.5 0a4.25 4.25 0 1 0 -8.5 0M1029.06 2044.54a4.25 4.25 0 1 0 8.5 0a4.25 4.25 0 1 0 -8.5 0M1022.02 2034.43a4.25 4.25 0 1 0 8.5 0a4.25 4.25 0 1 0 -8.5 0M1004.11 2103.46a4.25 4.25 0 1 0 8.5 0a4.25 4.25 0 1 0 -8.5 0M998.17 2092.67a4.25 4.25 0 1 0 8.5 0a4.25 4.25 0 1 0 -8.5 0M992.23 2081.88a4.25 4.25 0 1 0 8.5 0a4.25 4.25 0 1 0 -8.5 0M986.3 2071.09a4.25 4.25 0 1 0 8.5 0a4.25 4.25 0 1 0 -8.5 0M980.36 2060.3a4.25 4.25 0 1 0 8.5 0a4.25 4.25 0 1 0 -8.5 0M955.29 2127.06a4.25 4.25 0 1 0 8.5 0a4.25 4.25 0 1 0 -8.5 0M950.52 2115.7a4.25 4.25 0 1 0 8.5 0a4.25 4.25 0 1 0 -8.5 0M945.75 2104.35a4.25 4.25 0 1 0 8.5 0a4.25 4.25 0 1 0 -8.5 0M940.98 2092.99a4.25 4.25 0 1 0 8.5 0a4.25 4.25 0 1 0 -8.5 0M936.21 2081.64a4.25 4.25 0 1 0 8.5 0a4.25 4.25 0 1 0 -8.5 0M904.26 2145.4a4.25 4.25 0 1 0 8.5 0a4.25 4.25 0 1 0 -8.5 0M900.71 2133.6a4.25 4.25 0 1 0 8.5 0a4.25 4.25 0 1 0 -8.5 0M897.16 2121.81a4.25 4.25 0 1 0 8.5 0a4.25 4.25 0 1 0 -8.5 0M893.61 2110.02a4.25 4.25 0 1 0 8.5 0a4.25 4.25 0 1 0 -8.5 0M890.07 2098.22a4.25 4.25 0 1 0 8.5 0a4.25 4.25 0 1 0 -8.5 0M851.59 2158.27a4.25 4.25 0 1 0 8.5 0a4.25 4.25 0 1 0 -8.5 0M849.3 2146.17a4.25 4.25 0 1 0 8.5 0a4.25 4.25 0 1 0 -8.5 0M847.01 2134.07a4.25 4.25 0 1 0 8.5 0a4.25 4.25 0 1 0 -8.5 0M844.72 2121.97a4.25 4.25 0 1 0 8.5 0a4.25 4.25 0 1 0 -8.5 0M842.43 2109.87a4.25 4.25 0 1 0 8.5 0a4.25 4.25 0 1 0 -8.5 0M797.86 2165.54a4.25 4.25 0 1 0 8.5 0a4.25 4.25 0 1 0 -8.5 0M796.86 2153.26a4.25 4.25 0 1 0 8.5 0a4.25 4.25 0 1 0 -8.5 0M795.85 2140.99a4.25 4.25 0 1 0 8.5 0a4.25 4.25 0 1 0 -8.5 0M794.84 2128.72a4.25 4.25 0 1 0 8.5 0a4.25 4.25 0 1 0 -8.5 0M793.84 2116.44a4.25 4.25 0 1 0 8.5 0a4.25 4.25 0 1 0 -8.5 0M743.66 2167.12a4.25 4.25 0 1 0 8.5 0a4.25 4.25 0 1 0 -8.5 0M743.95 2154.81a4.25 4.25 0 1 0 8.5 0a4.25 4.25 0 1 0 -8.5 0M744.24 2142.5a4.25 4.25 0 1 0 8.5 0a4.25 4.25 0 1 0 -8.5 0M744.53 2130.18a4.25 4.25 0 1 0 8.5 0a4.25 4.25 0 1 0 -8.5 0M744.82 2117.87a4.25 4.25 0 1 0 8.5 0a4.25 4.25 0 1 0 -8.5 0M691.18 2150.79a4.25 4.25 0 1 0 8.5 0a4.25 4.25 0 1 0 -8.5 0M692.76 2138.57a4.25 4.25 0 1 0 8.5 0a4.25 4.25 0 1 0 -8.5 0M694.34 2126.36a4.25 4.25 0 1 0 8.5 0a4.25 4.25 0 1 0 -8.5 0M695.92 2114.14a4.25 4.25 0 1 0 8.5 0a4.25 4.25 0 1 0 -8.5 0M636.27 2153.22a4.25 4.25 0 1 0 8.5 0a4.25 4.25 0 1 0 -8.5 0M639.12 2141.24a4.25 4.25 0 1 0 8.5 0a4.25 4.25 0 1 0 -8.5 0M641.98 2129.26a4.25 4.25 0 1 0 8.5 0a4.25 4.25 0 1 0 -8.5 0M644.84 2117.28a4.25 4.25 0 1 0 8.5 0a4.25 4.25 0 1 0 -8.5 0M647.69 2105.3a4.25 4.25 0 1 0 8.5 0a4.25 4.25 0 1 0 -8.5 0M584.26 2137.89a4.25 4.25 0 1 0 8.5 0a4.25 4.25 0 1 0 -8.5 0M588.36 2126.27a4.25 4.25 0 1 0 8.5 0a4.25 4.25 0 1 0 -8.5 0M592.46 2114.66a4.25 4.25 0 1 0 8.5 0a4.25 4.25 0 1 0 -8.5 0M596.56 2103.05a4.25 4.25 0 1 0 8.5 0a4.25 4.25 0 1 0 -8.5 0M600.66 2091.43a4.25 4.25 0 1 0 8.5 0a4.25 4.25 0 1 0 -8.5 0M534.15 2117.18a4.25 4.25 0 1 0 8.5 0a4.25 4.25 0 1 0 -8.5 0M539.45 2106.06a4.25 4.25 0 1 0 8.5 0a4.25 4.25 0 1 0 -8.5 0M544.74 2094.94a4.25 4.25 0 1 0 8.5 0a4.25 4.25 0 1 0 -8.5 0M550.04 2083.82a4.25 4.25 0 1 0 8.5 0a4.25 4.25 0 1 0 -8.5 0M555.34 2072.7a4.25 4.25 0 1 0 8.5 0a4.25 4.25 0 1 0 -8.5 0M486.5 2091.32a4.25 4.25 0 1 0 8.5 0a4.25 4.25 0 1 0 -8.5 0M492.93 2080.81a4.25 4.25 0 1 0 8.5 0a4.25 4.25 0 1 0 -8.5 0M499.37 2070.31a4.25 4.25 0 1 0 8.5 0a4.25 4.25 0 1 0 -8.5 0M505.8 2059.81a4.25 4.25 0 1 0 8.5 0a4.25 4.25 0 1 0 -8.5 0M512.24 2049.31a4.25 4.25 0 1 0 8.5 0a4.25 4.25 0 1 0 -8.5 0M449.32 2050.82a4.25 4.25 0 1 0 8.5 0a4.25 4.25 0 1 0 -8.5 0M456.83 2041.06a4.25 4.25 0 1 0 8.5 0a4.25 4.25 0 1 0 -8.5 0M464.33 2031.29a4.25 4.25 0 1 0 8.5 0a4.25 4.25 0 1 0 -8.5 0M471.83 2021.52a4.25 4.25 0 1 0 8.5 0a4.25 4.25 0 1 0 -8.5 0M409.11 2016.41a4.25 4.25 0 1 0 8.5 0a4.25 4.25 0 1 0 -8.5 0M434.58 1989.64a4.25 4.25 0 1 0 8.5 0a4.25 4.25 0 1 0 -8.5 0M372.74 1977.97a4.25 4.25 0 1 0 8.5 0a4.25 4.25 0 1 0 -8.5 0M382.12 1969.99a4.25 4.25 0 1 0 8.5 0a4.25 4.25 0 1 0 -8.5 0M391.49 1962.01a4.25 4.25 0 1 0 8.5 0a4.25 4.25 0 1 0 -8.5 0M400.87 1954.02a4.25 4.25 0 1 0 8.5 0a4.25 4.25 0 1 0 -8.5 0M340.6 1935.92a4.25 4.25 0 1 0 8.5 0a4.25 4.25 0 1 0 -8.5 0M371.1 1915.06a4.25 4.25 0 1 0 8.5 0a4.25 4.25 0 1 0 -8.5 0M302.23 1896.57a4.25 4.25 0 1 0 8.5 0a4.25 4.25 0 1 0 -8.5 0M313.07 1890.72a4.25 4.25 0 1 0 8.5 0a4.25 4.25 0 1 0 -8.5 0M323.91 1884.87a4.25 4.25 0 1 0 8.5 0a4.25 4.25 0 1 0 -8.5 0M334.75 1879.03a4.25 4.25 0 1 0 8.5 0a4.25 4.25 0 1 0 -8.5 0M345.59 1873.18a4.25 4.25 0 1 0 8.5 0a4.25 4.25 0 1 0 -8.5 0M290.43 1842.88a4.25 4.25 0 1 0 8.5 0a4.25 4.25 0 1 0 -8.5 0M324.61 1828.86a4.25 4.25 0 1 0 8.5 0a4.25 4.25 0 1 0 -8.5 0M272.95 1792.92a4.25 4.25 0 1 0 8.5 0a4.25 4.25 0 1 0 -8.5 0M284.77 1789.47a4.25 4.25 0 1 0 8.5 0a4.25 4.25 0 1 0 -8.5 0M296.59 1786.02a4.25 4.25 0 1 0 8.5 0a4.25 4.25 0 1 0 -8.5 0M308.42 1782.57a4.25 4.25 0 1 0 8.5 0a4.25 4.25 0 1 0 -8.5 0M260.81 1741.41a4.25 4.25 0 1 0 8.5 0a4.25 4.25 0 1 0 -8.5 0M297.17 1734.84a4.25 4.25 0 1 0 8.5 0a4.25 4.25 0 1 0 -8.5 0M254.16 1688.9a4.25 4.25 0 1 0 8.5 0a4.25 4.25 0 1 0 -8.5 0M291.01 1686.19a4.25 4.25 0 1 0 8.5 0a4.25 4.25 0 1 0 -8.5 0M240.75 1635.6a4.25 4.25 0 1 0 8.5 0a4.25 4.25 0 1 0 -8.5 0M253.06 1635.99a4.25 4.25 0 1 0 8.5 0a4.25 4.25 0 1 0 -8.5 0M265.37 1636.38a4.25 4.25 0 1 0 8.5 0a4.25 4.25 0 1 0 -8.5 0M277.68 1636.78a4.25 4.25 0 1 0 8.5 0a4.25 4.25 0 1 0 -8.5 0M289.99 1637.17a4.25 4.25 0 1 0 8.5 0a4.25 4.25 0 1 0 -8.5 0M245.32 1581.57a4.25 4.25 0 1 0 8.5 0a4.25 4.25 0 1 0 -8.5 0M257.52 1583.26a4.25 4.25 0 1 0 8.5 0a4.25 4.25 0 1 0 -8.5 0M269.72 1584.94a4.25 4.25 0 1 0 8.5 0a4.25 4.25 0 1 0 -8.5 0M281.92 1586.62a4.25 4.25 0 1 0 8.5 0a4.25 4.25 0 1 0 -8.5 0M294.12 1588.31a4.25 4.25 0 1 0 8.5 0a4.25 4.25 0 1 0 -8.5 0M255.55 1528.32a4.25 4.25 0 1 0 8.5 0a4.25 4.25 0 1 0 -8.5 0M267.51 1531.28a4.25 4.25 0 1 0 8.5 0a4.25 4.25 0 1 0 -8.5 0M279.46 1534.24a4.25 4.25 0 1 0 8.5 0a4.25 4.25 0 1 0 -8.5 0M291.42 1537.19a4.25 4.25 0 1 0 8.5 0a4.25 4.25 0 1 0 -8.5 0M303.37 1540.15a4.25 4.25 0 1 0 8.5 0a4.25 4.25 0 1 0 -8.5 0M271.32 1476.45a4.25 4.25 0 1 0 8.5 0a4.25 4.25 0 1 0 -8.5 0M282.89 1480.64a4.25 4.25 0 1 0 8.5 0a4.25 4.25 0 1 0 -8.5 0M294.47 1484.84a4.25 4.25 0 1 0 8.5 0a4.25 4.25 0 1 0 -8.5 0M306.05 1489.03a4.25 4.25 0 1 0 8.5 0a4.25 4.25 0 1 0 -8.5 0M317.63 1493.23a4.25 4.25 0 1 0 8.5 0a4.25 4.25 0 1 0 -8.5 0" fill="none" stroke="#ddb8bd" stroke-width="1"/>
<path d="M613.89 966.49a4.4 4.4 0 1 0 8.8 0a4.4 4.4 0 1 0 -8.8 0M616.38 978.56a4.4 4.4 0 1 0 8.8 0a4.4 4.4 0 1 0 -8.8 0M621.37 1002.68a4.4 4.4 0 1 0 8.8 0a4.4 4.4 0 1 0 -8.8 0M623.86 1014.74a4.4 4.4 0 1 0 8.8 0a4.4 4.4 0 1 0 -8.8 0M626.35 1026.8a4.4 4.4 0 1 0 8.8 0a4.4 4.4 0 1 0 -8.8 0M636.33 1075.04a4.4 4.4 0 1 0 8.8 0a4.4 4.4 0 1 0 -8.8 0M638.82 1087.1a4.4 4.4 0 1 0 8.8 0a4.4 4.4 0 1 0 -8.8 0M643.81 1111.22a4.4 4.4 0 1 0 8.8 0a4.4 4.4 0 1 0 -8.8 0M646.3 1123.28a4.4 4.4 0 1 0 8.8 0a4.4 4.4 0 1 0 -8.8 0M648.79 1135.35a4.4 4.4 0 1 0 8.8 0a4.4 4.4 0 1 0 -8.8 0M686.71 955.4a4.4 4.4 0 1 0 8.8 0a4.4 4.4 0 1 0 -8.8 0M687.92 967.65a4.4 4.4 0 1 0 8.8 0a4.4 4.4 0 1 0 -8.8 0M691.56 1004.42a4.4 4.4 0 1 0 8.8 0a4.4 4.4 0 1 0 -8.8 0M698.83 1077.96a4.4 4.4 0 1 0 8.8 0a4.4 4.4 0 1 0 -8.8 0M700.04 1090.21a4.4 4.4 0 1 0 8.8 0a4.4 4.4 0 1 0 -8.8 0M702.47 1114.73a4.4 4.4 0 1 0 8.8 0a4.4 4.4 0 1 0 -8.8 0M703.68 1126.98a4.4 4.4 0 1 0 8.8 0a4.4 4.4 0 1 0 -8.8 0M760.29 952.02a4.4 4.4 0 1 0 8.8 0a4.4 4.4 0 1 0 -8.8 0M760.21 964.33a4.4 4.4 0 1 0 8.8 0a4.4 4.4 0 1 0 -8.8 0M759.96 1001.28a4.4 4.4 0 1 0 8.8 0a4.4 4.4 0 1 0 -8.8 0M759.88 1013.59a4.4 4.4 0 1 0 8.8 0a4.4 4.4 0 1 0 -8.8 0M759.47 1075.17a4.4 4.4 0 1 0 8.8 0a4.4 4.4 0 1 0 -8.8 0M759.38 1087.49a4.4 4.4 0 1 0 8.8 0a4.4 4.4 0 1 0 -8.8 0M759.3 1099.8a4.4 4.4 0 1 0 8.8 0a4.4 4.4 0 1 0 -8.8 0M759.22 1112.12a4.4 4.4 0 1 0 8.8 0a4.4 4.4 0 1 0 -8.8 0M759.14 1124.43a4.4 4.4 0 1 0 8.8 0a4.4 4.4 0 1 0 -8.8 0M833.82 956.38a4.4 4.4 0 1 0 8.8 0a4.4 4.4 0 1 0 -8.8 0M832.45 968.62a4.4 4.4 0 1 0 8.8 0a4.4 4.4 0 1 0 -8.8 0M828.32 1005.34a4.4 4.4 0 1 0 8.8 0a4.4 4.4 0 1 0 -8.8 0M820.06 1078.77a4.4 4.4 0 1 0 8.8 0a4.4 4.4 0 1 0 -8.8 0M815.93 1115.49a4.4 4.4 0 1 0 8.8 0a4.4 4.4 0 1 0 -8.8 0M814.56 1127.73a4.4 4.4 0 1 0 8.8 0a4.4 4.4 0 1 0 -8.8 0M906.49 968.46a4.4 4.4 0 1 0 8.8 0a4.4 4.4 0 1 0 -8.8 0M903.83 980.48a4.4 4.4 0 1 0 8.8 0a4.4 4.4 0 1 0 -8.8 0M879.94 1088.72a4.4 4.4 0 1 0 8.8 0a4.4 4.4 0 1 0 -8.8 0M871.98 1124.8a4.4 4.4 0 1 0 8.8 0a4.4 4.4 0 1 0 -8.8 0M869.32 1136.82a4.4 4.4 0 1 0 8.8 0a4.4 4.4 0 1 0 -8.8 0M977.48 988.1a4.4 4.4 0 1 0 8.8 0a4.4 4.4 0 1 0 -8.8 0M973.58 999.78a4.4 4.4 0 1 0 8.8 0a4.4 4.4 0 1 0 -8.8 0M961.87 1034.82a4.4 4.4 0 1 0 8.8 0a4.4 4.4 0 1 0 -8.8 0M938.44 1104.9a4.4 4.4 0 1 0 8.8 0a4.4 4.4 0 1 0 -8.8 0M926.73 1139.95a4.4 4.4 0 1 0 8.8 0a4.4 4.4 0 1 0 -8.8 0M922.83 1151.63a4.4 4.4 0 1 0 8.8 0a4.4 4.4 0 1 0 -8.8 0M1046.02 1015.09a4.4 4.4 0 1 0 8.8 0a4.4 4.4 0 1 0 -8.8 0M1040.91 1026.29a4.4 4.4 0 1 0 8.8 0a4.4 4.4 0 1 0 -8.8 0M1025.58 1059.91a4.4 4.4 0 1 0 8.8 0a4.4 4.4 0 1 0 -8.8 0M994.92 1127.15a4.4 4.4 0 1 0 8.8 0a4.4 4.4 0 1 0 -8.8 0M979.59 1160.76a4.4 4.4 0 1 0 8.8 0a4.4 4.4 0 1 0 -8.8 0M974.48 1171.97a4.4 4.4 0 1 0 8.8 0a4.4 4.4 0 1 0 -8.8 0M1111.34 1049.13a4.4 4.4 0 1 0 8.8 0a4.4 4.4 0 1 0 -8.8 0M1105.08 1059.74a4.4 4.4 0 1 0 8.8 0a4.4 4.4 0 1 0 -8.8 0M1086.3 1091.56a4.4 4.4 0 1 0 8.8 0a4.4 4.4 0 1 0 -8.8 0M1048.75 1155.2a4.4 4.4 0 1 0 8.8 0a4.4 4.4 0 1 0 -8.8 0M1029.97 1187.02a4.4 4.4 0 1 0 8.8 0a4.4 4.4 0 1 0 -8.8 0M1023.72 1197.63a4.4 4.4 0 1 0 8.8 0a4.4 4.4 0 1 0 -8.8 0M1172.72 1089.85a4.4 4.4 0 1 0 8.8 0a4.4 4.4 0 1 0 -8.8 0M1165.38 1099.74a4.4 4.4 0 1 0 8.8 0a4.4 4.4 0 1 0 -8.8 0M1143.37 1129.41a4.4 4.4 0 1 0 8.8 0a4.4 4.4 0 1 0 -8.8 0M1099.33 1188.76a4.4 4.4 0 1 0 8.8 0a4.4 4.4 0 1 0 -8.8 0M1229.49 1136.8a4.4 4.4 0 1 0 8.8 0a4.4 4.4 0 1 0 -8.8 0M1221.15 1145.86a4.4 4.4 0 1 0 8.8 0a4.4 4.4 0 1 0 -8.8 0M1196.14 1173.06a4.4 4.4 0 1 0 8.8 0a4.4 4.4 0 1 0 -8.8 0M1187.8 1182.12a4.4 4.4 0 1 0 8.8 0a4.4 4.4 0 1 0 -8.8 0M1146.11 1227.44a4.4 4.4 0 1 0 8.8 0a4.4 4.4 0 1 0 -8.8 0M1129.43 1245.57a4.4 4.4 0 1 0 8.8 0a4.4 4.4 0 1 0 -8.8 0M1121.1 1254.64a4.4 4.4 0 1 0 8.8 0a4.4 4.4 0 1 0 -8.8 0M1112.76 1263.7a4.4 4.4 0 1 0 8.8 0a4.4 4.4 0 1 0 -8.8 0M1281 1189.45a4.4 4.4 0 1 0 8.8 0a4.4 4.4 0 1 0 -8.8 0M1271.76 1197.59a4.4 4.4 0 1 0 8.8 0a4.4 4.4 0 1 0 -8.8 0M1244.03 1222a4.4 4.4 0 1 0 8.8 0a4.4 4.4 0 1 0 -8.8 0M1188.56 1270.83a4.4 4.4 0 1 0 8.8 0a4.4 4.4 0 1 0 -8.8 0M1160.83 1295.24a4.4 4.4 0 1 0 8.8 0a4.4 4.4 0 1 0 -8.8 0M1151.59 1303.38a4.4 4.4 0 1 0 8.8 0a4.4 4.4 0 1 0 -8.8 0M1326.7 1247.22a4.4 4.4 0 1 0 8.8 0a4.4 4.4 0 1 0 -8.8 0M1316.65 1254.34a4.4 4.4 0 1 0 8.8 0a4.4 4.4 0 1 0 -8.8 0M1286.51 1275.71a4.4 4.4 0 1 0 8.8 0a4.4 4.4 0 1 0 -8.8 0M1226.22 1318.44a4.4 4.4 0 1 0 8.8 0a4.4 4.4 0 1 0 -8.8 0M1196.08 1339.8a4.4 4.4 0 1 0 8.8 0a4.4 4.4 0 1 0 -8.8 0M1186.03 1346.92a4.4 4.4 0 1 0 8.8 0a4.4 4.4 0 1 0 -8.8 0M1366.07 1309.47a4.4 4.4 0 1 0 8.8 0a4.4 4.4 0 1 0 -8.8 0M1355.33 1315.5a4.4 4.4 0 1 0 8.8 0a4.4 4.4 0 1 0 -8.8 0M1323.11 1333.58a4.4 4.4 0 1 0 8.8 0a4.4 4.4 0 1 0 -8.8 0M1258.67 1369.74a4.4 4.4 0 1 0 8.8 0a4.4 4.4 0 1 0 -8.8 0M1226.44 1387.82a4.4 4.4 0 1 0 8.8 0a4.4 4.4 0 1 0 -8.8 0M1215.7 1393.84a4.4 4.4 0 1 0 8.8 0a4.4 4.4 0 1 0 -8.8 0M1398.69 1375.52a4.4 4.4 0 1 0 8.8 0a4.4 4.4 0 1 0 -8.8 0M1387.37 1380.39a4.4 4.4 0 1 0 8.8 0a4.4 4.4 0 1 0 -8.8 0M1285.54 1424.17a4.4 4.4 0 1 0 8.8 0a4.4 4.4 0 1 0 -8.8 0M1251.6 1438.76a4.4 4.4 0 1 0 8.8 0a4.4 4.4 0 1 0 -8.8 0M1240.28 1443.62a4.4 4.4 0 1 0 8.8 0a4.4 4.4 0 1 0 -8.8 0M1424.18 1444.63a4.4 4.4 0 1 0 8.8 0a4.4 4.4 0 1 0 -8.8 0M1412.42 1448.28a4.4 4.4 0 1 0 8.8 0a4.4 4.4 0 1 0 -8.8 0M1388.89 1455.58a4.4 4.4 0 1 0 8.8 0a4.4 4.4 0 1 0 -8.8 0M1377.13 1459.22a4.4 4.4 0 1 0 8.8 0a4.4 4.4 0 1 0 -8.8 0M1318.31 1477.47a4.4 4.4 0 1 0 8.8 0a4.4 4.4 0 1 0 -8.8 0M1306.55 1481.12a4.4 4.4 0 1 0 8.8 0a4.4 4.4 0 1 0 -8.8 0M1294.79 1484.76a4.4 4.4 0 1 0 8.8 0a4.4 4.4 0 1 0 -8.8 0M1271.26 1492.06a4.4 4.4 0 1 0 8.8 0a4.4 4.4 0 1 0 -8.8 0M1259.5 1495.71a4.4 4.4 0 1 0 8.8 0a4.4 4.4 0 1 0 -8.8 0M1442.27 1516.04a4.4 4.4 0 1 0 8.8 0a4.4 4.4 0 1 0 -8.8 0M1430.19 1518.43a4.4 4.4 0 1 0 8.8 0a4.4 4.4 0 1 0 -8.8 0M1393.94 1525.6a4.4 4.4 0 1 0 8.8 0a4.4 4.4 0 1 0 -8.8 0M1321.46 1539.96a4.4 4.4 0 1 0 8.8 0a4.4 4.4 0 1 0 -8.8 0M1285.21 1547.13a4.4 4.4 0 1 0 8.8 0a4.4 4.4 0 1 0 -8.8 0M1273.13 1549.53a4.4 4.4 0 1 0 8.8 0a4.4 4.4 0 1 0 -8.8 0M1452.75 1588.95a4.4 4.4 0 1 0 8.8 0a4.4 4.4 0 1 0 -8.8 0M1440.49 1590.06a4.4 4.4 0 1 0 8.8 0a4.4 4.4 0 1 0 -8.8 0M1403.69 1593.38a4.4 4.4 0 1 0 8.8 0a4.4 4.4 0 1 0 -8.8 0M1330.1 1600.04a4.4 4.4 0 1 0 8.8 0a4.4 4.4 0 1 0 -8.8 0M1293.3 1603.37a4.4 4.4 0 1 0 8.8 0a4.4 4.4 0 1 0 -8.8 0M1281.03 1604.48a4.4 4.4 0 1 0 8.8 0a4.4 4.4 0 1 0 -8.8 0M1455.52 1662.56a4.4 4.4 0 1 0 8.8 0a4.4 4.4 0 1 0 -8.8 0M1443.21 1662.37a4.4 4.4 0 1 0 8.8 0a4.4 4.4 0 1 0 -8.8 0M1332.38 1660.7a4.4 4.4 0 1 0 8.8 0a4.4 4.4 0 1 0 -8.8 0M1295.43 1660.14a4.4 4.4 0 1 0 8.8 0a4.4 4.4 0 1 0 -8.8 0M1450.54 1736.05a4.4 4.4 0 1 0 8.8 0a4.4 4.4 0 1 0 -8.8 0M1438.31 1734.57a4.4 4.4 0 1 0 8.8 0a4.4 4.4 0 1 0 -8.8 0M1401.63 1730.13a4.4 4.4 0 1 0 8.8 0a4.4 4.4 0 1 0 -8.8 0M1328.27 1721.26a4.4 4.4 0 1 0 8.8 0a4.4 4.4 0 1 0 -8.8 0M1316.04 1719.78a4.4 4.4 0 1 0 8.8 0a4.4 4.4 0 1 0 -8.8 0M1291.59 1716.82a4.4 4.4 0 1 0 8.8 0a4.4 4.4 0 1 0 -8.8 0M1279.36 1715.35a4.4 4.4 0 1 0 8.8 0a4.4 4.4 0 1 0 -8.8 0M1437.86 1808.61a4.4 4.4 0 1 0 8.8 0a4.4 4.4 0 1 0 -8.8 0M1425.85 1805.85a4.4 4.4 0 1 0 8.8 0a4.4 4.4 0 1 0 -8.8 0M1317.82 1781.05a4.4 4.4 0 1 0 8.8 0a4.4 4.4 0 1 0 -8.8 0M1281.81 1772.79a4.4 4.4 0 1 0 8.8 0a4.4 4.4 0 1 0 -8.8 0M1269.81 1770.03a4.4 4.4 0 1 0 8.8 0a4.4 4.4 0 1 0 -8.8 0M1417.62 1879.44a4.4 4.4 0 1 0 8.8 0a4.4 4.4 0 1 0 -8.8 0M1405.97 1875.43a4.4 4.4 0 1 0 8.8 0a4.4 4.4 0 1 0 -8.8 0M1371.03 1863.43a4.4 4.4 0 1 0 8.8 0a4.4 4.4 0 1 0 -8.8 0M1301.15 1839.42a4.4 4.4 0 1 0 8.8 0a4.4 4.4 0 1 0 -8.8 0M1266.2 1827.42a4.4 4.4 0 1 0 8.8 0a4.4 4.4 0 1 0 -8.8 0M1254.56 1823.41a4.4 4.4 0 1 0 8.8 0a4.4 4.4 0 1 0 -8.8 0M1390.06 1947.74a4.4 4.4 0 1 0 8.8 0a4.4 4.4 0 1 0 -8.8 0M1378.89 1942.54a4.4 4.4 0 1 0 8.8 0a4.4 4.4 0 1 0 -8.8 0M1278.43 1895.71a4.4 4.4 0 1 0 8.8 0a4.4 4.4 0 1 0 -8.8 0M1244.94 1880.1a4.4 4.4 0 1 0 8.8 0a4.4 4.4 0 1 0 -8.8 0M1233.78 1874.9a4.4 4.4 0 1 0 8.8 0a4.4 4.4 0 1 0 -8.8 0M1355.47 2012.78a4.4 4.4 0 1 0 8.8 0a4.4 4.4 0 1 0 -8.8 0M1344.91 2006.43a4.4 4.4 0 1 0 8.8 0a4.4 4.4 0 1 0 -8.8 0M1313.25 1987.39a4.4 4.4 0 1 0 8.8 0a4.4 4.4 0 1 0 -8.8 0M1249.93 1949.3a4.4 4.4 0 1 0 8.8 0a4.4 4.4 0 1 0 -8.8 0M1314.23 2073.82a4.4 4.4 0 1 0 8.8 0a4.4 4.4 0 1 0 -8.8 0M1304.4 2066.4a4.4 4.4 0 1 0 8.8 0a4.4 4.4 0 1 0 -8.8 0M1215.95 1999.6a4.4 4.4 0 1 0 8.8 0a4.4 4.4 0 1 0 -8.8 0M1266.81 2130.18a4.4 4.4 0 1 0 8.8 0a4.4 4.4 0 1 0 -8.8 0M1257.82 2121.77a4.4 4.4 0 1 0 8.8 0a4.4 4.4 0 1 0 -8.8 0M1176.87 2046.05a4.4 4.4 0 1 0 8.8 0a4.4 4.4 0 1 0 -8.8 0M1149.89 2020.81a4.4 4.4 0 1 0 8.8 0a4.4 4.4 0 1 0 -8.8 0M1140.89 2012.4a4.4 4.4 0 1 0 8.8 0a4.4 4.4 0 1 0 -8.8 0M1213.73 2181.26a4.4 4.4 0 1 0 8.8 0a4.4 4.4 0 1 0 -8.8 0M1205.67 2171.95a4.4 4.4 0 1 0 8.8 0a4.4 4.4 0 1 0 -8.8 0M1181.49 2144.01a4.4 4.4 0 1 0 8.8 0a4.4 4.4 0 1 0 -8.8 0M1133.13 2088.14a4.4 4.4 0 1 0 8.8 0a4.4 4.4 0 1 0 -8.8 0M1108.95 2060.2a4.4 4.4 0 1 0 8.8 0a4.4 4.4 0 1 0 -8.8 0M1100.89 2050.89a4.4 4.4 0 1 0 8.8 0a4.4 4.4 0 1 0 -8.8 0M1155.58 2226.47a4.4 4.4 0 1 0 8.8 0a4.4 4.4 0 1 0 -8.8 0M1148.54 2216.36a4.4 4.4 0 1 0 8.8 0a4.4 4.4 0 1 0 -8.8 0M1134.47 2196.15a4.4 4.4 0 1 0 8.8 0a4.4 4.4 0 1 0 -8.8 0M1127.43 2186.04a4.4 4.4 0 1 0 8.8 0a4.4 4.4 0 1 0 -8.8 0M1092.25 2135.5a4.4 4.4 0 1 0 8.8 0a4.4 4.4 0 1 0 -8.8 0M1085.21 2125.4a4.4 4.4 0 1 0 8.8 0a4.4 4.4 0 1 0 -8.8 0M1064.1 2095.08a4.4 4.4 0 1 0 8.8 0a4.4 4.4 0 1 0 -8.8 0M1093 2265.32a4.4 4.4 0 1 0 8.8 0a4.4 4.4 0 1 0 -8.8 0M1087.06 2254.53a4.4 4.4 0 1 0 8.8 0a4.4 4.4 0 1 0 -8.8 0M1075.19 2232.95a4.4 4.4 0 1 0 8.8 0a4.4 4.4 0 1 0 -8.8 0M1039.57 2168.2a4.4 4.4 0 1 0 8.8 0a4.4 4.4 0 1 0 -8.8 0M1033.64 2157.41a4.4 4.4 0 1 0 8.8 0a4.4 4.4 0 1 0 -8.8 0M1015.83 2125.04a4.4 4.4 0 1 0 8.8 0a4.4 4.4 0 1 0 -8.8 0M1009.89 2114.25a4.4 4.4 0 1 0 8.8 0a4.4 4.4 0 1 0 -8.8 0M1026.68 2297.38a4.4 4.4 0 1 0 8.8 0a4.4 4.4 0 1 0 -8.8 0M1021.91 2286.03a4.4 4.4 0 1 0 8.8 0a4.4 4.4 0 1 0 -8.8 0M1007.6 2251.96a4.4 4.4 0 1 0 8.8 0a4.4 4.4 0 1 0 -8.8 0M978.99 2183.83a4.4 4.4 0 1 0 8.8 0a4.4 4.4 0 1 0 -8.8 0M964.68 2149.77a4.4 4.4 0 1 0 8.8 0a4.4 4.4 0 1 0 -8.8 0M959.91 2138.41a4.4 4.4 0 1 0 8.8 0a4.4 4.4 0 1 0 -8.8 0M957.36 2322.29a4.4 4.4 0 1 0 8.8 0a4.4 4.4 0 1 0 -8.8 0M953.81 2310.5a4.4 4.4 0 1 0 8.8 0a4.4 4.4 0 1 0 -8.8 0M921.86 2204.36a4.4 4.4 0 1 0 8.8 0a4.4 4.4 0 1 0 -8.8 0M911.21 2168.98a4.4 4.4 0 1 0 8.8 0a4.4 4.4 0 1 0 -8.8 0M907.66 2157.19a4.4 4.4 0 1 0 8.8 0a4.4 4.4 0 1 0 -8.8 0M885.81 2339.78a4.4 4.4 0 1 0 8.8 0a4.4 4.4 0 1 0 -8.8 0M883.52 2327.68a4.4 4.4 0 1 0 8.8 0a4.4 4.4 0 1 0 -8.8 0M862.9 2218.78a4.4 4.4 0 1 0 8.8 0a4.4 4.4 0 1 0 -8.8 0M812.81 2349.66a4.4 4.4 0 1 0 8.8 0a4.4 4.4 0 1 0 -8.8 0M811.8 2337.38a4.4 4.4 0 1 0 8.8 0a4.4 4.4 0 1 0 -8.8 0M802.75 2226.91a4.4 4.4 0 1 0 8.8 0a4.4 4.4 0 1 0 -8.8 0M799.73 2190.09a4.4 4.4 0 1 0 8.8 0a4.4 4.4 0 1 0 -8.8 0M739.18 2351.81a4.4 4.4 0 1 0 8.8 0a4.4 4.4 0 1 0 -8.8 0M739.47 2339.5a4.4 4.4 0 1 0 8.8 0a4.4 4.4 0 1 0 -8.8 0M740.63 2290.25a4.4 4.4 0 1 0 8.8 0a4.4 4.4 0 1 0 -8.8 0M742.07 2228.68a4.4 4.4 0 1 0 8.8 0a4.4 4.4 0 1 0 -8.8 0M742.65 2204.06a4.4 4.4 0 1 0 8.8 0a4.4 4.4 0 1 0 -8.8 0M742.94 2191.75a4.4 4.4 0 1 0 8.8 0a4.4 4.4 0 1 0 -8.8 0M743.23 2179.43a4.4 4.4 0 1 0 8.8 0a4.4 4.4 0 1 0 -8.8 0M665.73 2346.21a4.4 4.4 0 1 0 8.8 0a4.4 4.4 0 1 0 -8.8 0M667.31 2333.99a4.4 4.4 0 1 0 8.8 0a4.4 4.4 0 1 0 -8.8 0M672.06 2297.35a4.4 4.4 0 1 0 8.8 0a4.4 4.4 0 1 0 -8.8 0M681.54 2224.07a4.4 4.4 0 1 0 8.8 0a4.4 4.4 0 1 0 -8.8 0M686.29 2187.43a4.4 4.4 0 1 0 8.8 0a4.4 4.4 0 1 0 -8.8 0M687.87 2175.21a4.4 4.4 0 1 0 8.8 0a4.4 4.4 0 1 0 -8.8 0M593.28 2332.92a4.4 4.4 0 1 0 8.8 0a4.4 4.4 0 1 0 -8.8 0M596.14 2320.94a4.4 4.4 0 1 0 8.8 0a4.4 4.4 0 1 0 -8.8 0M601.85 2296.98a4.4 4.4 0 1 0 8.8 0a4.4 4.4 0 1 0 -8.8 0M604.7 2285a4.4 4.4 0 1 0 8.8 0a4.4 4.4 0 1 0 -8.8 0M618.98 2225.1a4.4 4.4 0 1 0 8.8 0a4.4 4.4 0 1 0 -8.8 0M621.84 2213.12a4.4 4.4 0 1 0 8.8 0a4.4 4.4 0 1 0 -8.8 0M624.7 2201.14a4.4 4.4 0 1 0 8.8 0a4.4 4.4 0 1 0 -8.8 0M630.41 2177.18a4.4 4.4 0 1 0 8.8 0a4.4 4.4 0 1 0 -8.8 0M633.26 2165.2a4.4 4.4 0 1 0 8.8 0a4.4 4.4 0 1 0 -8.8 0M522.63 2312.09a4.4 4.4 0 1 0 8.8 0a4.4 4.4 0 1 0 -8.8 0M526.73 2300.48a4.4 4.4 0 1 0 8.8 0a4.4 4.4 0 1 0 -8.8 0M534.92 2277.25a4.4 4.4 0 1 0 8.8 0a4.4 4.4 0 1 0 -8.8 0M539.02 2265.64a4.4 4.4 0 1 0 8.8 0a4.4 4.4 0 1 0 -8.8 0M559.52 2207.57a4.4 4.4 0 1 0 8.8 0a4.4 4.4 0 1 0 -8.8 0M563.62 2195.96a4.4 4.4 0 1 0 8.8 0a4.4 4.4 0 1 0 -8.8 0M575.91 2161.12a4.4 4.4 0 1 0 8.8 0a4.4 4.4 0 1 0 -8.8 0M580.01 2149.5a4.4 4.4 0 1 0 8.8 0a4.4 4.4 0 1 0 -8.8 0M454.55 2283.96a4.4 4.4 0 1 0 8.8 0a4.4 4.4 0 1 0 -8.8 0M459.85 2272.84a4.4 4.4 0 1 0 8.8 0a4.4 4.4 0 1 0 -8.8 0M470.44 2250.6a4.4 4.4 0 1 0 8.8 0a4.4 4.4 0 1 0 -8.8 0M475.74 2239.48a4.4 4.4 0 1 0 8.8 0a4.4 4.4 0 1 0 -8.8 0M481.03 2228.36a4.4 4.4 0 1 0 8.8 0a4.4 4.4 0 1 0 -8.8 0M502.22 2183.89a4.4 4.4 0 1 0 8.8 0a4.4 4.4 0 1 0 -8.8 0M507.52 2172.77a4.4 4.4 0 1 0 8.8 0a4.4 4.4 0 1 0 -8.8 0M518.11 2150.53a4.4 4.4 0 1 0 8.8 0a4.4 4.4 0 1 0 -8.8 0M523.41 2139.41a4.4 4.4 0 1 0 8.8 0a4.4 4.4 0 1 0 -8.8 0M528.7 2128.3a4.4 4.4 0 1 0 8.8 0a4.4 4.4 0 1 0 -8.8 0M389.81 2248.82a4.4 4.4 0 1 0 8.8 0a4.4 4.4 0 1 0 -8.8 0M396.25 2238.32a4.4 4.4 0 1 0 8.8 0a4.4 4.4 0 1 0 -8.8 0M409.12 2217.32a4.4 4.4 0 1 0 8.8 0a4.4 4.4 0 1 0 -8.8 0M415.55 2206.82a4.4 4.4 0 1 0 8.8 0a4.4 4.4 0 1 0 -8.8 0M421.99 2196.32a4.4 4.4 0 1 0 8.8 0a4.4 4.4 0 1 0 -8.8 0M447.73 2154.32a4.4 4.4 0 1 0 8.8 0a4.4 4.4 0 1 0 -8.8 0M454.17 2143.82a4.4 4.4 0 1 0 8.8 0a4.4 4.4 0 1 0 -8.8 0M460.6 2133.32a4.4 4.4 0 1 0 8.8 0a4.4 4.4 0 1 0 -8.8 0M467.04 2122.82a4.4 4.4 0 1 0 8.8 0a4.4 4.4 0 1 0 -8.8 0M473.47 2112.32a4.4 4.4 0 1 0 8.8 0a4.4 4.4 0 1 0 -8.8 0M479.91 2101.82a4.4 4.4 0 1 0 8.8 0a4.4 4.4 0 1 0 -8.8 0M329.12 2207.08a4.4 4.4 0 1 0 8.8 0a4.4 4.4 0 1 0 -8.8 0M336.62 2197.31a4.4 4.4 0 1 0 8.8 0a4.4 4.4 0 1 0 -8.8 0M359.13 2168.02a4.4 4.4 0 1 0 8.8 0a4.4 4.4 0 1 0 -8.8 0M404.15 2109.42a4.4 4.4 0 1 0 8.8 0a4.4 4.4 0 1 0 -8.8 0M426.66 2080.12a4.4 4.4 0 1 0 8.8 0a4.4 4.4 0 1 0 -8.8 0M434.17 2070.35a4.4 4.4 0 1 0 8.8 0a4.4 4.4 0 1 0 -8.8 0M273.15 2159.19a4.4 4.4 0 1 0 8.8 0a4.4 4.4 0 1 0 -8.8 0M281.64 2150.27a4.4 4.4 0 1 0 8.8 0a4.4 4.4 0 1 0 -8.8 0M307.1 2123.5a4.4 4.4 0 1 0 8.8 0a4.4 4.4 0 1 0 -8.8 0M358.03 2069.95a4.4 4.4 0 1 0 8.8 0a4.4 4.4 0 1 0 -8.8 0M383.5 2043.18a4.4 4.4 0 1 0 8.8 0a4.4 4.4 0 1 0 -8.8 0M391.98 2034.26a4.4 4.4 0 1 0 8.8 0a4.4 4.4 0 1 0 -8.8 0M222.52 2105.68a4.4 4.4 0 1 0 8.8 0a4.4 4.4 0 1 0 -8.8 0M231.9 2097.7a4.4 4.4 0 1 0 8.8 0a4.4 4.4 0 1 0 -8.8 0M260.04 2073.76a4.4 4.4 0 1 0 8.8 0a4.4 4.4 0 1 0 -8.8 0M316.31 2025.86a4.4 4.4 0 1 0 8.8 0a4.4 4.4 0 1 0 -8.8 0M325.69 2017.88a4.4 4.4 0 1 0 8.8 0a4.4 4.4 0 1 0 -8.8 0M344.45 2001.92a4.4 4.4 0 1 0 8.8 0a4.4 4.4 0 1 0 -8.8 0M353.83 1993.93a4.4 4.4 0 1 0 8.8 0a4.4 4.4 0 1 0 -8.8 0M177.8 2047.15a4.4 4.4 0 1 0 8.8 0a4.4 4.4 0 1 0 -8.8 0M187.97 2040.2a4.4 4.4 0 1 0 8.8 0a4.4 4.4 0 1 0 -8.8 0M218.46 2019.34a4.4 4.4 0 1 0 8.8 0a4.4 4.4 0 1 0 -8.8 0M279.46 1977.63a4.4 4.4 0 1 0 8.8 0a4.4 4.4 0 1 0 -8.8 0M309.96 1956.77a4.4 4.4 0 1 0 8.8 0a4.4 4.4 0 1 0 -8.8 0M320.12 1949.82a4.4 4.4 0 1 0 8.8 0a4.4 4.4 0 1 0 -8.8 0M139.47 1984.25a4.4 4.4 0 1 0 8.8 0a4.4 4.4 0 1 0 -8.8 0M150.31 1978.4a4.4 4.4 0 1 0 8.8 0a4.4 4.4 0 1 0 -8.8 0M182.83 1960.87a4.4 4.4 0 1 0 8.8 0a4.4 4.4 0 1 0 -8.8 0M193.68 1955.02a4.4 4.4 0 1 0 8.8 0a4.4 4.4 0 1 0 -8.8 0M247.88 1925.79a4.4 4.4 0 1 0 8.8 0a4.4 4.4 0 1 0 -8.8 0M269.56 1914.1a4.4 4.4 0 1 0 8.8 0a4.4 4.4 0 1 0 -8.8 0M280.4 1908.26a4.4 4.4 0 1 0 8.8 0a4.4 4.4 0 1 0 -8.8 0M291.24 1902.41a4.4 4.4 0 1 0 8.8 0a4.4 4.4 0 1 0 -8.8 0M107.97 1917.66a4.4 4.4 0 1 0 8.8 0a4.4 4.4 0 1 0 -8.8 0M119.37 1912.99a4.4 4.4 0 1 0 8.8 0a4.4 4.4 0 1 0 -8.8 0M153.55 1898.97a4.4 4.4 0 1 0 8.8 0a4.4 4.4 0 1 0 -8.8 0M164.94 1894.29a4.4 4.4 0 1 0 8.8 0a4.4 4.4 0 1 0 -8.8 0M221.92 1870.92a4.4 4.4 0 1 0 8.8 0a4.4 4.4 0 1 0 -8.8 0M244.7 1861.58a4.4 4.4 0 1 0 8.8 0a4.4 4.4 0 1 0 -8.8 0M256.1 1856.9a4.4 4.4 0 1 0 8.8 0a4.4 4.4 0 1 0 -8.8 0M267.49 1852.23a4.4 4.4 0 1 0 8.8 0a4.4 4.4 0 1 0 -8.8 0M83.64 1848.14a4.4 4.4 0 1 0 8.8 0a4.4 4.4 0 1 0 -8.8 0M95.46 1844.69a4.4 4.4 0 1 0 8.8 0a4.4 4.4 0 1 0 -8.8 0M130.93 1834.33a4.4 4.4 0 1 0 8.8 0a4.4 4.4 0 1 0 -8.8 0M142.75 1830.88a4.4 4.4 0 1 0 8.8 0a4.4 4.4 0 1 0 -8.8 0M201.86 1813.63a4.4 4.4 0 1 0 8.8 0a4.4 4.4 0 1 0 -8.8 0M225.51 1806.73a4.4 4.4 0 1 0 8.8 0a4.4 4.4 0 1 0 -8.8 0M237.33 1803.28a4.4 4.4 0 1 0 8.8 0a4.4 4.4 0 1 0 -8.8 0M249.15 1799.83a4.4 4.4 0 1 0 8.8 0a4.4 4.4 0 1 0 -8.8 0M66.75 1776.44a4.4 4.4 0 1 0 8.8 0a4.4 4.4 0 1 0 -8.8 0M78.87 1774.25a4.4 4.4 0 1 0 8.8 0a4.4 4.4 0 1 0 -8.8 0M115.23 1767.68a4.4 4.4 0 1 0 8.8 0a4.4 4.4 0 1 0 -8.8 0M127.35 1765.49a4.4 4.4 0 1 0 8.8 0a4.4 4.4 0 1 0 -8.8 0M187.95 1754.55a4.4 4.4 0 1 0 8.8 0a4.4 4.4 0 1 0 -8.8 0M212.19 1750.17a4.4 4.4 0 1 0 8.8 0a4.4 4.4 0 1 0 -8.8 0M224.3 1747.98a4.4 4.4 0 1 0 8.8 0a4.4 4.4 0 1 0 -8.8 0M57.49 1703.36a4.4 4.4 0 1 0 8.8 0a4.4 4.4 0 1 0 -8.8 0M69.77 1702.46a4.4 4.4 0 1 0 8.8 0a4.4 4.4 0 1 0 -8.8 0M118.9 1698.85a4.4 4.4 0 1 0 8.8 0a4.4 4.4 0 1 0 -8.8 0M180.31 1694.33a4.4 4.4 0 1 0 8.8 0a4.4 4.4 0 1 0 -8.8 0M204.88 1692.52a4.4 4.4 0 1 0 8.8 0a4.4 4.4 0 1 0 -8.8 0M217.16 1691.62a4.4 4.4 0 1 0 8.8 0a4.4 4.4 0 1 0 -8.8 0M55.95 1629.72a4.4 4.4 0 1 0 8.8 0a4.4 4.4 0 1 0 -8.8 0M68.26 1630.11a4.4 4.4 0 1 0 8.8 0a4.4 4.4 0 1 0 -8.8 0M179.05 1633.64a4.4 4.4 0 1 0 8.8 0a4.4 4.4 0 1 0 -8.8 0M62.17 1556.32a4.4 4.4 0 1 0 8.8 0a4.4 4.4 0 1 0 -8.8 0M74.37 1558a4.4 4.4 0 1 0 8.8 0a4.4 4.4 0 1 0 -8.8 0M110.97 1563.05a4.4 4.4 0 1 0 8.8 0a4.4 4.4 0 1 0 -8.8 0M184.17 1573.16a4.4 4.4 0 1 0 8.8 0a4.4 4.4 0 1 0 -8.8 0M220.77 1578.21a4.4 4.4 0 1 0 8.8 0a4.4 4.4 0 1 0 -8.8 0M232.97 1579.89a4.4 4.4 0 1 0 8.8 0a4.4 4.4 0 1 0 -8.8 0M76.06 1483.98a4.4 4.4 0 1 0 8.8 0a4.4 4.4 0 1 0 -8.8 0M88.02 1486.94a4.4 4.4 0 1 0 8.8 0a4.4 4.4 0 1 0 -8.8 0M123.89 1495.81a4.4 4.4 0 1 0 8.8 0a4.4 4.4 0 1 0 -8.8 0M195.62 1513.54a4.4 4.4 0 1 0 8.8 0a4.4 4.4 0 1 0 -8.8 0M231.49 1522.41a4.4 4.4 0 1 0 8.8 0a4.4 4.4 0 1 0 -8.8 0M97.48 1413.5a4.4 4.4 0 1 0 8.8 0a4.4 4.4 0 1 0 -8.8 0M109.06 1417.7a4.4 4.4 0 1 0 8.8 0a4.4 4.4 0 1 0 -8.8 0M213.27 1455.47a4.4 4.4 0 1 0 8.8 0a4.4 4.4 0 1 0 -8.8 0M248.01 1468.05a4.4 4.4 0 1 0 8.8 0a4.4 4.4 0 1 0 -8.8 0" fill="#0000ee"/>
<path d="M1267.14 1713.87a4.4 4.4 0 1 0 8.8 0a4.4 4.4 0 1 0 -8.8 0M1257.8 1767.28a4.4 4.4 0 1 0 8.8 0a4.4 4.4 0 1 0 -8.8 0M689.45 2163a4.4 4.4 0 1 0 8.8 0a4.4 4.4 0 1 0 -8.8 0M441.67 2060.59a4.4 4.4 0 1 0 8.8 0a4.4 4.4 0 1 0 -8.8 0M400.47 2025.34a4.4 4.4 0 1 0 8.8 0a4.4 4.4 0 1 0 -8.8 0M417.45 2007.49a4.4 4.4 0 1 0 8.8 0a4.4 4.4 0 1 0 -8.8 0M425.94 1998.57a4.4 4.4 0 1 0 8.8 0a4.4 4.4 0 1 0 -8.8 0M363.21 1985.95a4.4 4.4 0 1 0 8.8 0a4.4 4.4 0 1 0 -8.8 0M330.29 1942.87a4.4 4.4 0 1 0 8.8 0a4.4 4.4 0 1 0 -8.8 0M350.62 1928.96a4.4 4.4 0 1 0 8.8 0a4.4 4.4 0 1 0 -8.8 0M360.78 1922.01a4.4 4.4 0 1 0 8.8 0a4.4 4.4 0 1 0 -8.8 0M278.89 1847.55a4.4 4.4 0 1 0 8.8 0a4.4 4.4 0 1 0 -8.8 0M301.68 1838.2a4.4 4.4 0 1 0 8.8 0a4.4 4.4 0 1 0 -8.8 0M313.07 1833.53a4.4 4.4 0 1 0 8.8 0a4.4 4.4 0 1 0 -8.8 0M260.98 1796.38a4.4 4.4 0 1 0 8.8 0a4.4 4.4 0 1 0 -8.8 0M248.54 1743.6a4.4 4.4 0 1 0 8.8 0a4.4 4.4 0 1 0 -8.8 0M272.78 1739.22a4.4 4.4 0 1 0 8.8 0a4.4 4.4 0 1 0 -8.8 0M284.9 1737.03a4.4 4.4 0 1 0 8.8 0a4.4 4.4 0 1 0 -8.8 0M241.73 1689.81a4.4 4.4 0 1 0 8.8 0a4.4 4.4 0 1 0 -8.8 0M266.29 1688a4.4 4.4 0 1 0 8.8 0a4.4 4.4 0 1 0 -8.8 0M278.57 1687.1a4.4 4.4 0 1 0 8.8 0a4.4 4.4 0 1 0 -8.8 0" fill="#ee0000"/>
<text transform="translate(143 1338.2) rotate(-64)" font-family="Liberation Sans" font-size="14.1">K00022</text>
<text transform="translate(153.68 1344.28) rotate(-64)" font-family="Liberation Sans" font-size="14.1">K00074</text>
<text transform="translate(164.37 1350.36) rotate(-64)" font-family="Liberation Sans" font-size="14.1">K15016</text>
<text transform="translate(175.05 1356.44) rotate(-64)" font-family="Liberation Sans" font-size="14.1">K17865</text>
<text transform="translate(185.74 1362.52) rotate(-64)" font-family="Liberation Sans" font-size="14.1">K12405</text>
<text transform="translate(196.42 1368.59) rotate(-64)" font-family="Liberation Sans" font-size="14.1">K22250</text>
<text transform="translate(207.11 1374.67) rotate(-64)" font-family="Liberation Sans" font-size="14.1">K22249</text>
<text transform="translate(217.79 1380.75) rotate(-64)" font-family="Liberation Sans" font-size="14.1">K05973</text>
<text transform="translate(228.47 1386.83) rotate(-64)" font-family="Liberation Sans" font-size="14.1">K03932</text>
<text transform="translate(239.16 1392.91) rotate(-64)" font-family="Liberation Sans" font-size="14.1">K19659</text>
<text transform="translate(249.84 1398.99) rotate(-64)" font-family="Liberation Sans" font-size="14.1">K00019</text>
<text transform="translate(260.53 1405.07) rotate(-64)" font-family="Liberation Sans" font-size="14.1">K24257</text>
<text transform="translate(271.21 1411.15) rotate(-64)" font-family="Liberation Sans" font-size="14.1">K22250</text>
<text transform="translate(281.89 1417.23) rotate(-64)" font-family="Liberation Sans" font-size="14.1">K03821</text>
<text transform="translate(292.58 1423.31) rotate(-64)" font-family="Liberation Sans" font-size="14.1">K22881</text>
<text transform="translate(303.26 1429.38) rotate(-64)" font-family="Liberation Sans" font-size="14.1">K01524</text>
<text transform="translate(313.95 1435.46) rotate(-64)" font-family="Liberation Sans" font-size="14.1">K01514</text>
<text transform="translate(324.63 1441.54) rotate(-64)" font-family="Liberation Sans" font-size="14.1">K23753</text>
<text transform="translate(335.32 1447.62) rotate(-64)" font-family="Liberation Sans" font-size="14.1">K22468</text>
<text transform="translate(346 1453.7) rotate(-64)" font-family="Liberation Sans" font-size="14.1">K00937</text>
<text transform="translate(712.53 1422.36) rotate(78.32)" text-anchor="end" font-family="Liberation Sans" font-weight="bold" font-size="11.6" dominant-baseline="central" fill="#000">Nitrosopumilus ureiphilus PS0</text>
<text transform="translate(736.92 1418.64) rotate(84.35)" text-anchor="end" font-family="Liberation Sans" font-weight="bold" font-size="11.6" dominant-baseline="central" fill="#000">Nitrosopumilus zosterae NM25</text>
<text transform="translate(761.57 1417.51) rotate(-89.62)" font-family="Liberation Sans" font-weight="bold" font-size="11.6" dominant-baseline="central" fill="#000">Nitrosopumilus adriaticus NF5</text>
<text transform="translate(786.2 1418.97) rotate(-83.58)" font-family="Liberation Sans" font-weight="bold" font-size="11.6" dominant-baseline="central" fill="#000">Nitrosopumilus sp. HMK29</text>
<text transform="translate(810.55 1423.01) rotate(-77.55)" font-family="Liberation Sans" font-weight="bold" font-size="11.6" dominant-baseline="central" fill="#000">Nitrosopumilus salarius BD31</text>
<text transform="translate(834.33 1429.59) rotate(-71.52)" font-family="Liberation Sans" font-weight="bold" font-size="11.6" dominant-baseline="central" fill="#000">Nitrosopumilus sediminis AR2</text>
<text transform="translate(857.29 1438.63) rotate(-65.49)" font-family="Liberation Sans" font-weight="bold" font-size="11.6" dominant-baseline="central" fill="#000">Nitrosopumilus cobalaminigenes HCA1</text>
<text transform="translate(879.17 1450.04) rotate(-59.46)" font-family="Liberation Sans" font-weight="bold" font-size="11.6" dominant-baseline="central" fill="#000">Nitrosopumilus oxyclinae HCE1</text>
<text transform="translate(899.74 1463.68) rotate(-53.42)" font-family="Liberation Sans" font-weight="bold" font-size="11.6" dominant-baseline="central" fill="#000">Nitrosopumilus sp. Nsub</text>
<text transform="translate(918.75 1479.41) rotate(-47.39)" font-family="Liberation Sans" font-weight="bold" font-size="11.6" dominant-baseline="central" fill="#000">Nitrosomarinus catalina SPOT01</text>
<text transform="translate(936.01 1497.05) rotate(-41.36)" font-family="Liberation Sans" font-weight="bold" font-size="11.6" dominant-baseline="central" fill="#000">Nitrosopumilus koreense SJ</text>
<text transform="translate(951.32 1516.4) rotate(-35.33)" font-family="Liberation Sans" font-weight="bold" font-size="11.6" dominant-baseline="central" fill="#e01b1b">Nitrosopumilus maritimus SCM1</text>
<text transform="translate(964.51 1537.25) rotate(-29.3)" font-family="Liberation Sans" font-weight="bold" font-size="11.6" dominant-baseline="central" fill="#000">GCA 006740685 Nitrosopumilus sp. SW</text>
<text transform="translate(975.43 1559.38) rotate(-23.26)" font-family="Liberation Sans" font-weight="bold" font-size="11.6" dominant-baseline="central" fill="#000">MT GWHAAAY Nitrosopelagicus sp.</text>
<text transform="translate(983.97 1582.53) rotate(-17.23)" font-family="Liberation Sans" font-weight="bold" font-size="11.6" dominant-baseline="central" fill="#000">Nitrosarchaeum limnium BG20</text>
<text transform="translate(990.03 1606.45) rotate(-11.2)" font-family="Liberation Sans" font-weight="bold" font-size="11.6" dominant-baseline="central" fill="#000">Nitrosarchaeum limnium SFB1</text>
<text transform="translate(993.55 1630.88) rotate(-5.17)" font-family="Liberation Sans" font-weight="bold" font-size="11.6" dominant-baseline="central" fill="#000">Nitrosarchaeum koreense MY1</text>
<text transform="translate(994.47 1655.54) rotate(0.86)" font-family="Liberation Sans" font-weight="bold" font-size="11.6" dominant-baseline="central" fill="#000">Nitrosarchaeum sp. AC2</text>
<text transform="translate(992.8 1680.16) rotate(6.9)" font-family="Liberation Sans" font-weight="bold" font-size="11.6" dominant-baseline="central" fill="#000">Nitrosarchaeum sp. ST3</text>
<text transform="translate(988.56 1704.46) rotate(12.93)" font-family="Liberation Sans" font-weight="bold" font-size="11.6" dominant-baseline="central" fill="#000">Nitrosarchaeum sp. ST2</text>
<text transform="translate(981.78 1728.19) rotate(18.96)" font-family="Liberation Sans" font-weight="bold" font-size="11.6" dominant-baseline="central" fill="#000">Nitrosopumilus sp. K4</text>
<text transform="translate(972.54 1751.07) rotate(24.99)" font-family="Liberation Sans" font-weight="bold" font-size="11.6" dominant-baseline="central" fill="#000">Cenarchaeum symbiosum A</text>
<text transform="translate(960.96 1772.86) rotate(31.02)" font-family="Liberation Sans" font-weight="bold" font-size="11.6" dominant-baseline="central" fill="#000">Nitrosopelagicus sp. REDSEA-S31_B2</text>
<text transform="translate(947.14 1793.31) rotate(37.06)" font-family="Liberation Sans" font-weight="bold" font-size="11.6" dominant-baseline="central" fill="#000">Nitrosopelagicus brevis CN25</text>
<text transform="translate(931.26 1812.19) rotate(43.09)" font-family="Liberation Sans" font-weight="bold" font-size="11.6" dominant-baseline="central" fill="#000">Nitrosopelagicus sp. AB_629_I23</text>
<text transform="translate(913.47 1829.3) rotate(49.12)" font-family="Liberation Sans" font-weight="bold" font-size="11.6" dominant-baseline="central" fill="#000">Nitrosopumilaceae sp. O23</text>
<text transform="translate(893.99 1844.45) rotate(55.15)" font-family="Liberation Sans" font-weight="bold" font-size="11.6" dominant-baseline="central" fill="#000">MT GWHAAAW Nitrosopelagicus sp.</text>
<text transform="translate(873.03 1857.46) rotate(61.18)" font-family="Liberation Sans" font-weight="bold" font-size="11.6" dominant-baseline="central" fill="#000">MT GWHAAAB Nitrosopelagicus sp.</text>
<text transform="translate(850.81 1868.2) rotate(67.22)" font-family="Liberation Sans" font-weight="bold" font-size="11.6" dominant-baseline="central" fill="#000">MT GWHAAAV Nitrosopelagicus sp.</text>
<text transform="translate(827.59 1876.55) rotate(73.25)" font-family="Liberation Sans" font-weight="bold" font-size="11.6" dominant-baseline="central" fill="#000">MT GWHABF Nitrosopelagicus sp.</text>
<text transform="translate(803.62 1882.41) rotate(79.28)" font-family="Liberation Sans" font-weight="bold" font-size="11.6" dominant-baseline="central" fill="#000">MT GWHAAAX Nitrosopelagicus sp.</text>
<text transform="translate(779.17 1885.72) rotate(85.31)" font-family="Liberation Sans" font-weight="bold" font-size="11.6" dominant-baseline="central" fill="#000">MT GWHAABJ Nitrosopelagicus sp.</text>
<text transform="translate(754.5 1886.44) rotate(271.34)" text-anchor="end" font-family="Liberation Sans" font-weight="bold" font-size="11.6" dominant-baseline="central" fill="#000">Nitrososphaerota archaeon CSP1_1</text>
<text transform="translate(729.89 1884.56) rotate(277.38)" text-anchor="end" font-family="Liberation Sans" font-weight="bold" font-size="11.6" dominant-baseline="central" fill="#000">Nitrosotenuis uzonensis N4</text>
<text transform="translate(705.62 1880.11) rotate(283.41)" text-anchor="end" font-family="Liberation Sans" font-weight="bold" font-size="11.6" dominant-baseline="central" fill="#000">Nitrosotenuis cloacae SAT1</text>
<text transform="translate(681.95 1873.13) rotate(289.44)" text-anchor="end" font-family="Liberation Sans" font-weight="bold" font-size="11.6" dominant-baseline="central" fill="#000">Nitrosotenuis sp. AQ6f</text>
<text transform="translate(659.15 1863.71) rotate(295.47)" text-anchor="end" font-family="Liberation Sans" font-weight="bold" font-size="11.6" dominant-baseline="central" fill="#000">Nitrosotenuis sp. DW1</text>
<text transform="translate(637.46 1851.94) rotate(301.5)" text-anchor="end" font-family="Liberation Sans" font-weight="bold" font-size="11.6" dominant-baseline="central" fill="#000">Nitrosotenuis chungbukensis MY2</text>
<text transform="translate(617.13 1837.95) rotate(307.54)" text-anchor="end" font-family="Liberation Sans" font-weight="bold" font-size="11.6" dominant-baseline="central" fill="#000">Nitrosotalea sinensis Nd2</text>
<text transform="translate(598.38 1821.91) rotate(313.57)" text-anchor="end" font-family="Liberation Sans" font-weight="bold" font-size="11.6" dominant-baseline="central" fill="#000">Nitrosotalea okcheonensis CS</text>
<text transform="translate(581.42 1803.98) rotate(319.6)" text-anchor="end" font-family="Liberation Sans" font-weight="bold" font-size="11.6" dominant-baseline="central" fill="#000">Nitrosotalea devanaterra Nd1</text>
<text transform="translate(566.44 1784.38) rotate(325.63)" text-anchor="end" font-family="Liberation Sans" font-weight="bold" font-size="11.6" dominant-baseline="central" fill="#000">Nitrosotalea bavarica SbT1</text>
<text transform="translate(553.6 1763.3) rotate(331.66)" text-anchor="end" font-family="Liberation Sans" font-weight="bold" font-size="11.6" dominant-baseline="central" fill="#000">Nitrososphaera gargensis Ga9.2</text>
<text transform="translate(543.04 1741) rotate(337.7)" text-anchor="end" font-family="Liberation Sans" font-weight="bold" font-size="11.6" dominant-baseline="central" fill="#000">Nitrososphaera evergladensis SR1</text>
<text transform="translate(534.89 1717.71) rotate(343.73)" text-anchor="end" font-family="Liberation Sans" font-weight="bold" font-size="11.6" dominant-baseline="central" fill="#000">Nitrososphaera viennensis EN76</text>
<text transform="translate(529.24 1693.69) rotate(349.76)" text-anchor="end" font-family="Liberation Sans" font-weight="bold" font-size="11.6" dominant-baseline="central" fill="#000">Nitrosocosmicus exaquare G61</text>
<text transform="translate(526.13 1669.21) rotate(355.79)" text-anchor="end" font-family="Liberation Sans" font-weight="bold" font-size="11.6" dominant-baseline="central" fill="#000">Nitrocosmicus oleophilus MY3</text>
<text transform="translate(525.62 1644.54) rotate(1.82)" text-anchor="end" font-family="Liberation Sans" font-weight="bold" font-size="11.6" dominant-baseline="central" fill="#000">Nitrososphaerales archaeon UBA213</text>
<text transform="translate(527.7 1619.95) rotate(7.86)" text-anchor="end" font-family="Liberation Sans" font-weight="bold" font-size="11.6" dominant-baseline="central" fill="#000">Nitrosocaldus sp. HL72</text>
<text transform="translate(532.36 1595.71) rotate(13.89)" text-anchor="end" font-family="Liberation Sans" font-weight="bold" font-size="11.6" dominant-baseline="central" fill="#000">Nitrosocaldus islandicus 3F</text>
<text transform="translate(539.53 1572.1) rotate(19.92)" text-anchor="end" font-family="Liberation Sans" font-weight="bold" font-size="11.6" dominant-baseline="central" fill="#000">Nitrosocaldus sp. US01</text>
<text transform="translate(677.88 1432.35) rotate(69.5)" text-anchor="end" font-family="Liberation Sans" font-weight="bold" font-size="24.5" dominant-baseline="central" fill="#ec3f35">Non-AOA</text>
<text transform="translate(632.63 1455.11) rotate(57.1)" text-anchor="end" font-family="Liberation Sans" font-weight="bold" font-size="24.5" dominant-baseline="central" fill="#ec3f35">Sulfolobus</text>
<text transform="translate(595.93 1484.46) rotate(45.6)" text-anchor="end" font-family="Liberation Sans" font-weight="bold" font-size="24.5" dominant-baseline="central" fill="#ec3f35">MGII/III/IV</text>
<text transform="translate(564.23 1522.91) rotate(33.4)" text-anchor="end" font-family="Liberation Sans" font-weight="bold" font-size="24.5" dominant-baseline="central" fill="#ec3f35">DPANN</text>
<g fill="none" stroke="#999" stroke-width="1" stroke-dasharray="2 2"><path d="M595.38 1646.76L527.12 1644.58"/><path d="M580.8 1627.27L529.19 1620.15"/><path d="M584.78 1608.68L533.81 1596.07"/><path d="M587.48 1589.48L540.94 1572.62"/><path d="M555.65 1667.04L527.63 1669.1"/><path d="M561.32 1687.89L530.71 1693.42"/><path d="M608.52 1733.69L554.92 1762.59"/><path d="M587.69 1702.3L536.33 1717.29"/><path d="M594.85 1719.74L544.43 1740.43"/><path d="M601.93 1760.1L567.68 1783.53"/><path d="M613.4 1776.76L582.56 1803.01"/><path d="M639.18 1809.25L618.04 1836.76"/><path d="M623.88 1795.1L599.41 1820.82"/><path d="M671.19 1838.43L659.79 1862.35"/><path d="M652.09 1828.06L638.24 1850.66"/><path d="M734.17 1851.54L730.09 1883.07"/><path d="M712.9 1849.56L705.97 1878.65"/><path d="M691.91 1844.94L682.45 1871.72"/><path d="M755.41 1847.85L754.53 1884.94"/><path d="M955.81 1769.77L959.67 1772.09"/><path d="M942.35 1789.69L945.94 1792.4"/><path d="M777.72 1868.07L779.04 1884.22"/><path d="M801.76 1872.58L803.34 1880.93"/><path d="M869.17 1850.45L872.31 1856.15"/><path d="M847.71 1860.83L850.23 1866.82"/><path d="M825.57 1869.85L827.16 1875.11"/><path d="M925.27 1806.59L930.16 1811.17"/><path d="M907.58 1822.5L912.49 1828.17"/><path d="M889.19 1837.55L893.14 1843.22"/><path d="M971.64 1750.65L971.18 1750.44"/><path d="M957.85 1719.97L980.36 1727.7"/><path d="M975.43 1678.05L991.31 1679.98"/><path d="M973.74 1701.06L987.09 1704.13"/><path d="M964.87 1588.46L982.54 1582.98"/><path d="M970.41 1610.34L988.56 1606.74"/><path d="M972.13 1632.81L992.05 1631.01"/><path d="M973.18 1655.21L992.97 1655.51"/><path d="M959.17 1566.37L974.06 1559.97"/><path d="M924 1507.62L934.88 1498.04"/><path d="M938.35 1525.59L950.09 1517.27"/><path d="M949.94 1545.43L963.2 1537.99"/><path d="M894.25 1471.07L898.84 1464.89"/><path d="M912.52 1486.18L917.74 1480.51"/><path d="M715.56 1437.05L712.83 1423.82"/><path d="M737.99 1429.49L737.07 1420.13"/><path d="M761.48 1431.5L761.56 1419.01"/><path d="M784.72 1432.19L786.04 1420.46"/><path d="M807.53 1436.68L810.22 1424.48"/><path d="M829.73 1443.34L833.85 1431.01"/><path d="M852.02 1450.19L856.67 1440"/><path d="M873.07 1460.37L878.41 1451.33"/></g>
<path d="M760.1 1641.5L760.1 1645.2L757.9 1647.6L760.6 1652.3M751.4 1645.98A10.5 10.5 0 0 1 767.35 1644.5M767.16 1644.32L782.98 1627.35M741.74 1623.67A33.7 33.7 0 0 1 790.37 1666.61M741.79 1623.64L688.69 1540.92M790.37 1666.61L836.05 1688.6M730.58 1572.89A84.4 84.4 0 1 1 679.37 1676.96M730.44 1572.94L704.39 1503.26M679.33 1676.82L656.77 1683.76M678.49 1722.85A108 108 0 0 1 652.92 1637.9M652.92 1637.9L642.02 1636.47M641.07 1648.05A119 119 0 0 1 643.87 1626.04M641.06 1648.21L596.88 1646.81M643.87 1626.04L609.42 1618.34M607.18 1630.69A154.3 154.3 0 0 1 612.36 1607.14M607.15 1630.91L582.28 1627.48M612.36 1607.14L599.83 1603.34M597.55 1611.59A167.4 167.4 0 0 1 602.7 1594.75M597.49 1611.82L586.23 1609.04M602.62 1594.97L588.89 1589.99M678.49 1722.85L672.45 1728.1M713.93 1758.46A116 116 0 0 1 648.33 1683.39M648.33 1683.39L627.73 1689.18M634.28 1707.45A137.4 137.4 0 0 1 623.65 1668.98M623.65 1668.98L574.93 1675.05M576.42 1684.9A186.5 186.5 0 0 1 573.98 1665.43M574 1665.68L557.15 1666.92M576.47 1685.15L562.79 1687.63M634.28 1707.45L619.19 1714.11M624.44 1724.87A153.9 153.9 0 0 1 614.84 1703.12M624.54 1725.05L609.84 1732.97M614.84 1703.12L597.48 1709.23M600.5 1717.16A172.3 172.3 0 0 1 594.53 1700.04M594.6 1700.28L589.13 1701.88M600.59 1717.39L596.24 1719.18M713.93 1758.46L699.24 1792.42M770.41 1804.65A153 153 0 0 1 642.28 1749.73M642.28 1749.73L618.82 1769.21M630.02 1781.53A183.5 183.5 0 0 1 608.39 1755.38M608.53 1755.59L603.17 1759.26M630.02 1781.53L628.25 1783.29M638.96 1793.22A186 186 0 0 1 618.19 1772.35M618.35 1772.55L614.55 1775.79M638.96 1793.22L637.98 1794.36M645.55 1800.51A187.5 187.5 0 0 1 630.58 1787.67M645.76 1800.68L640.1 1808.06M630.77 1787.85L624.91 1794.01M770.41 1804.65L771.25 1817.02M837.65 1798.04A165.4 165.4 0 0 1 702.89 1807.23M702.89 1807.23L698.02 1820.46M722.68 1827.58A179.5 179.5 0 0 1 674.63 1809.9M674.63 1809.9L667.73 1822.65M676.33 1827.03A194 194 0 0 1 658.4 1817.27M676.57 1827.14L671.84 1837.07M658.62 1817.41L652.88 1826.78M722.68 1827.58L721.85 1831.49M736.18 1833.95A183.5 183.5 0 0 1 707.88 1827.94M736.44 1833.98L734.36 1850.05M707.88 1827.94L704.76 1838.49M714.63 1841.13A194.5 194.5 0 0 1 695.01 1835.32M714.9 1841.2L713.25 1848.11M695.27 1835.41L692.4 1843.52M837.65 1798.04L840.56 1803.51M903.75 1745.71A171.6 171.6 0 0 1 755.75 1823.55M755.98 1823.55L755.44 1846.35M903.75 1745.71L907.86 1748.39M933.6 1683.86A176.5 176.5 0 0 1 859.72 1797.63M859.72 1797.63L862.82 1802.17M910.53 1754.3A182 182 0 0 1 800.01 1829.55M910.53 1754.3L944.85 1777.63M951.38 1767.45A223.5 223.5 0 0 1 938.17 1786.94M951.53 1767.19L954.53 1769M938.36 1786.68L941.16 1788.79M799.7 1829.62L803.5 1846.6M829.83 1838.77A199.4 199.4 0 0 1 776.03 1850.75M776.3 1850.73L777.6 1866.58M829.83 1838.77L833.54 1848.7M865.95 1833.31A210 210 0 0 1 798.77 1858.39M799.06 1858.34L801.48 1871.11M865.95 1833.31L867.77 1836.42M908.38 1805.65A213.6 213.6 0 0 1 845.86 1847.59M845.86 1847.59L848.23 1852.99M865.54 1844.46A219.5 219.5 0 0 1 822.97 1862.28M865.8 1844.32L868.45 1849.14M845 1854.37L847.13 1859.44M823.27 1862.18L825.14 1868.41M908.38 1805.65L911.78 1809.18M919.36 1801.49A218.5 218.5 0 0 1 884.61 1831.49M919.57 1801.26L924.17 1805.57M903 1817.2L906.6 1821.36M884.85 1831.32L888.34 1836.32M933.6 1683.86L938.03 1684.67M940.54 1639.06A181 181 0 0 1 923.95 1728.69M924.05 1728.47L970.28 1750.02M940.51 1638.74L954.97 1637.68M949.36 1700.62L951.78 1701.24M954.99 1686.38A198 198 0 0 1 947.17 1716.59M947.26 1716.33L956.43 1719.48M954.99 1686.38L961.39 1687.51M962.98 1676.85A204.5 204.5 0 0 1 959.25 1698.04M963.02 1676.55L973.94 1677.87M959.32 1697.75L972.28 1700.73M953.6 1624.79L962.01 1623.61M957.77 1601.96A204 204 0 0 1 963.85 1644.17M957.77 1601.96L965.52 1599.99M962.57 1589.49A212 212 0 0 1 968.02 1611.11M962.48 1589.2L963.44 1588.9M967.96 1610.82L968.94 1610.63M963.85 1644.17L970.84 1643.9M970.17 1633.28A211 211 0 0 1 970.97 1655.46M970.14 1632.99L970.64 1632.95M970.98 1655.18L971.68 1655.19M946.95 1571.62L957.79 1566.96M922.09 1528.96L930.06 1522.92M920.25 1510.92A213.5 213.5 0 0 1 940.46 1537.92M920.25 1510.92L922.87 1508.61M940.46 1537.92L941.31 1537.38M935 1527.96A214.5 214.5 0 0 1 947.06 1547.03M935 1527.96L937.12 1526.46M947.07 1547.04L948.64 1546.16M890.71 1493.43L901.21 1480.7M892.3 1473.73A222 222 0 0 1 910.29 1488.61M892.29 1473.72L893.36 1472.27M910.29 1488.61L911.51 1487.28M885.66 1502.24A195.5 195.5 0 0 1 949.36 1700.62M885.29 1491.64A203.5 203.5 0 0 1 946.9 1571.51M885.66 1502.24L890.81 1496.11M750.18 1443.73A208.5 208.5 0 0 1 787.58 1445.33M750.18 1443.73L749.9 1437.74M727.92 1439.91A214.5 214.5 0 0 1 772.35 1437.86M716.47 1441.45A215 215 0 0 1 738.83 1438.04M716.47 1441.45L715.87 1438.51M738.84 1438.04L738.14 1430.98M772.35 1437.86L772.46 1435.86M761.44 1435.5A216.5 216.5 0 0 1 784.17 1436.85M761.45 1435.5L761.47 1433M784.19 1436.86L784.55 1433.68M805.05 1447.91L807.21 1438.15M824.5 1451.1A211 211 0 0 1 841.77 1457.49M823.43 1454.43A207.5 207.5 0 0 1 843.07 1461.85M840.41 1460.71L842.73 1455.18M827.67 1449.51A213.5 213.5 0 0 1 858.58 1462.62M827.67 1449.51L829.26 1444.77M858.58 1462.62L859.6 1460.67M849.49 1455.74L851.4 1451.55M869.62 1466.23L872.31 1461.67" fill="none" stroke="#000" stroke-width="2" stroke-linecap="square"/>
<path d="M787.55 1445.53A208.3 208.3 0 0 1 823.68 1453.67M849.48 1455.74A215.7 215.7 0 0 1 869.61 1466.22M842.19 1463.87A205.3 205.3 0 0 1 886.4 1490.22" fill="none" stroke="#000" stroke-width="4.2" stroke-linecap="butt"/>
<polygon points="704.13,1503.35 679.4,1491.05 713.92,1475.1" fill="#a0a0a0" stroke="#000" stroke-width="2" stroke-linejoin="miter"/>
<polygon points="688.88,1540.8 679.63,1491.5 655.27,1521.28" fill="#a0a0a0" stroke="#000" stroke-width="2" stroke-linejoin="miter"/>
<polygon points="744.17,1636.72 623.2,1481.24 634.59,1547.88" fill="#a0a0a0" stroke="#000" stroke-width="2" stroke-linejoin="miter"/>
<polygon points="750.05,1645.29 612.97,1531.66 627.69,1584.58" fill="#a0a0a0" stroke="#000" stroke-width="2" stroke-linejoin="miter"/>
<g fill="none" stroke="#8c8c8c" stroke-width="1" stroke-dasharray="2 2"><path d="M704.32 1503.07L678.4 1433.76"/><path d="M688.3 1541.17L633.44 1456.37"/><path d="M743.21 1634.85L596.98 1485.53"/><path d="M748.31 1644.29L565.48 1523.74"/></g>
<g fill="#b0b0e8" fill-opacity="0.72"><circle cx="775" cy="1635.91" r="4.6"/><circle cx="715.82" cy="1582.92" r="4.3"/><circle cx="813.16" cy="1677.59" r="4.6"/><circle cx="717.27" cy="1537.73" r="4.6"/><circle cx="745.68" cy="1636.64" r="4.4"/><circle cx="752.37" cy="1647.23" r="4.4"/><circle cx="667.67" cy="1680.4" r="4.3"/><circle cx="647.37" cy="1637.17" r="4"/><circle cx="627.08" cy="1622.29" r="4.3"/><circle cx="606.43" cy="1605.34" r="4.3"/><circle cx="675.02" cy="1725.87" r="4.3"/><circle cx="637.83" cy="1686.34" r="4.3"/><circle cx="599.34" cy="1672.01" r="4.3"/><circle cx="627.06" cy="1710.64" r="4.3"/><circle cx="607.1" cy="1705.84" r="4.3"/><circle cx="706.39" cy="1775.9" r="4.3"/><circle cx="631.36" cy="1758.8" r="4.3"/><circle cx="629.1" cy="1782.45" r="3.2"/><circle cx="638.44" cy="1793.83" r="3.2"/><circle cx="770.86" cy="1811.23" r="4.3"/><circle cx="700.4" cy="1813.98" r="4.3"/><circle cx="670.73" cy="1817.11" r="4.3"/><circle cx="722.24" cy="1829.63" r="3.6"/><circle cx="706.38" cy="1833.03" r="3.8"/><circle cx="839.01" cy="1800.6" r="4.3"/><circle cx="905.34" cy="1746.75" r="3.6"/><circle cx="861.47" cy="1800.19" r="4.3"/><circle cx="920.37" cy="1760.99" r="4.3"/><circle cx="937.16" cy="1772.4" r="4.3"/><circle cx="801.34" cy="1838.47" r="4.3"/><circle cx="831.39" cy="1843.96" r="4.2"/><circle cx="866.86" cy="1834.87" r="3.6"/><circle cx="854.76" cy="1850.66" r="4.2"/><circle cx="896.15" cy="1816.58" r="4"/><circle cx="910.74" cy="1808.1" r="4.2"/><circle cx="935.76" cy="1684.26" r="3.6"/><circle cx="947" cy="1638.27" r="4.3"/><circle cx="950.62" cy="1700.94" r="3.8"/><circle cx="958.24" cy="1686.96" r="4.3"/><circle cx="959.14" cy="1624.01" r="4.3"/><circle cx="961.84" cy="1600.93" r="4.3"/><circle cx="965.85" cy="1644.09" r="4.3"/><circle cx="951.96" cy="1569.33" r="4.3"/><circle cx="916.69" cy="1531.77" r="4.6"/><circle cx="926.36" cy="1526.64" r="4.4"/><circle cx="940.45" cy="1536.6" r="4.2"/><circle cx="886.18" cy="1491.07" r="4.2"/><circle cx="896.53" cy="1485.79" r="4.6"/><circle cx="910.64" cy="1487.03" r="4.2"/><circle cx="750.04" cy="1440.73" r="4.6"/><circle cx="727.91" cy="1439.81" r="3.4"/><circle cx="772.41" cy="1436.76" r="4.6"/><circle cx="787.5" cy="1445.93" r="3.6"/><circle cx="824.04" cy="1452.53" r="3.6"/><circle cx="841.7" cy="1455.73" r="4.6"/><circle cx="842.55" cy="1463.05" r="4.6"/><circle cx="859.22" cy="1460.59" r="4.4"/></g>
</svg>
</body></html>
